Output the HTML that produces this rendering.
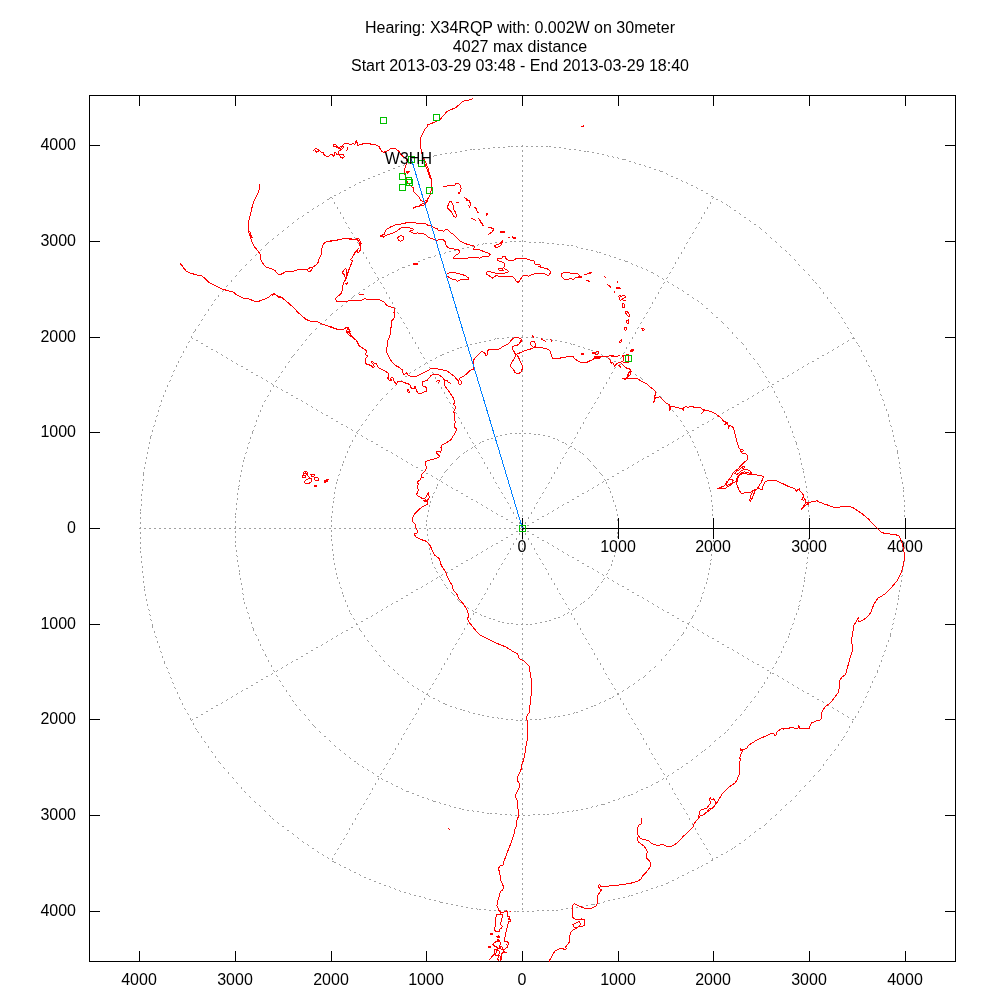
<!DOCTYPE html>
<html><head><meta charset="utf-8"><title>Hearing map</title>
<style>
html,body{margin:0;padding:0;background:#fff;}
body{width:1000px;height:1000px;overflow:hidden;font-family:"Liberation Sans",sans-serif;}
svg{display:block;}
text{font-family:"Liberation Sans",sans-serif;font-size:16px;fill:#000;filter:grayscale(1);}
</style></head><body>
<svg width="1000" height="1000" viewBox="0 0 1000 1000">
<rect width="1000" height="1000" fill="#fff"/>

<path d="M522 145h1v2h-1zM508 146h2v1h-2zM511 146h2v1h-2zM516 146h2v1h-2zM521 146h1v1h-1zM526 146h2v1h-2zM531 146h2v1h-2zM536 146h2v1h-2zM541 146h2v1h-2zM546 146h2v1h-2zM549 146h2v1h-2zM493 147h2v1h-2zM498 147h2v1h-2zM503 147h2v1h-2zM554 147h2v1h-2zM559 147h2v1h-2zM483 148h2v1h-2zM488 148h2v1h-2zM564 148h2v1h-2zM470 149h2v1h-2zM473 149h2v1h-2zM478 149h2v1h-2zM569 149h2v1h-2zM574 149h2v1h-2zM465 150h2v1h-2zM522 150h1v2h-1zM579 150h2v1h-2zM460 151h2v1h-2zM584 151h2v1h-2zM587 151h2v1h-2zM451 152h1v1h-1zM455 152h2v1h-2zM592 152h2v1h-2zM445 153h2v1h-2zM450 153h1v1h-1zM597 153h2v1h-2zM440 154h2v1h-2zM602 154h2v1h-2zM434 155h3v1h-3zM522 155h1v2h-1zM607 155h1v1h-1zM433 156h1v1h-1zM608 156h1v1h-1zM612 156h1v1h-1zM428 157h2v1h-2zM613 157h1v1h-1zM617 157h1v1h-1zM424 158h1v1h-1zM618 158h1v1h-1zM423 159h1v1h-1zM622 159h4v1h-4zM418 160h2v1h-2zM522 160h1v2h-1zM414 161h1v1h-1zM629 161h2v1h-2zM413 162h1v1h-1zM634 162h1v1h-1zM408 163h2v1h-2zM635 163h1v1h-1zM404 164h1v1h-1zM639 164h2v1h-2zM403 165h1v1h-1zM522 165h1v2h-1zM644 165h1v1h-1zM398 166h2v1h-2zM645 166h1v1h-1zM649 167h2v1h-2zM393 168h2v1h-2zM654 169h2v1h-2zM388 170h2v1h-2zM522 170h1v2h-1zM659 170h1v1h-1zM660 171h3v1h-3zM383 172h2v1h-2zM666 173h1v1h-1zM378 174h2v1h-2zM667 174h1v1h-1zM522 175h1v2h-1zM373 176h2v1h-2zM671 176h2v1h-2zM368 178h2v1h-2zM676 178h2v1h-2zM363 180h2v1h-2zM522 180h1v2h-1zM681 180h1v1h-1zM682 181h1v1h-1zM359 182h2v1h-2zM686 182h1v1h-1zM687 183h1v1h-1zM355 184h1v1h-1zM354 185h1v1h-1zM522 185h1v2h-1zM691 185h2v1h-2zM349 187h2v1h-2zM696 187h1v1h-1zM697 188h1v1h-1zM344 190h2v1h-2zM522 190h1v2h-1zM701 190h2v1h-2zM340 192h1v1h-1zM339 193h1v1h-1zM706 193h2v1h-2zM334 195h2v1h-2zM522 195h1v2h-1zM711 196h2v1h-2zM330 197h2v1h-2zM713 197h1v1h-1zM329 198h1v1h-1zM332 198h1v1h-1zM712 198h1v1h-1zM327 199h2v1h-2zM716 199h2v1h-2zM522 200h1v2h-1zM721 201h1v1h-1zM323 202h1v1h-1zM334 202h1v2h-1zM710 202h1v2h-1zM722 202h1v1h-1zM322 203h1v1h-1zM726 204h1v1h-1zM318 205h1v1h-1zM522 205h1v2h-1zM727 205h1v1h-1zM317 206h1v1h-1zM729 206h1v1h-1zM337 207h1v2h-1zM707 207h1v2h-1zM730 207h1v1h-1zM313 208h1v1h-1zM312 209h1v1h-1zM522 210h1v2h-1zM734 210h2v1h-2zM307 212h2v1h-2zM340 212h1v2h-1zM704 212h1v2h-1zM739 213h1v1h-1zM740 214h1v1h-1zM303 215h1v1h-1zM522 215h1v2h-1zM302 216h1v1h-1zM343 217h1v2h-1zM701 217h1v2h-1zM744 217h2v1h-2zM298 218h1v1h-1zM297 219h1v1h-1zM522 220h1v2h-1zM749 220h1v1h-1zM750 221h1v1h-1zM293 222h1v1h-1zM345 222h1v1h-1zM699 222h1v1h-1zM292 223h1v1h-1zM346 223h1v1h-1zM698 223h1v1h-1zM754 224h2v1h-2zM522 225h1v2h-1zM288 226h1v1h-1zM287 227h1v1h-1zM348 227h1v1h-1zM696 227h1v1h-1zM759 227h1v1h-1zM349 228h1v1h-1zM695 228h1v1h-1zM760 228h1v1h-1zM761 229h1v1h-1zM283 230h1v1h-1zM522 230h1v2h-1zM282 231h1v1h-1zM351 232h1v1h-1zM693 232h1v1h-1zM765 232h1v1h-1zM352 233h1v1h-1zM692 233h1v1h-1zM766 233h1v1h-1zM278 234h1v1h-1zM277 235h1v1h-1zM522 235h1v2h-1zM354 237h1v1h-1zM690 237h1v1h-1zM770 237h1v1h-1zM273 238h1v1h-1zM355 238h1v1h-1zM689 238h1v1h-1zM771 238h1v1h-1zM272 239h1v1h-1zM522 240h1v2h-1zM510 241h2v1h-2zM514 241h2v1h-2zM519 241h2v1h-2zM524 241h2v1h-2zM775 241h1v1h-1zM268 242h1v1h-1zM357 242h1v1h-1zM495 242h2v1h-2zM500 242h2v1h-2zM505 242h2v1h-2zM529 242h2v1h-2zM534 242h2v1h-2zM539 242h2v1h-2zM542 242h2v1h-2zM687 242h1v1h-1zM776 242h1v1h-1zM267 243h1v1h-1zM358 243h1v1h-1zM483 243h1v1h-1zM485 243h2v1h-2zM490 243h2v1h-2zM547 243h2v1h-2zM552 243h2v1h-2zM686 243h1v1h-1zM266 244h1v1h-1zM478 244h1v1h-1zM482 244h1v1h-1zM557 244h2v1h-2zM562 244h2v1h-2zM265 245h1v1h-1zM477 245h1v1h-1zM522 245h1v2h-1zM567 245h2v1h-2zM571 245h2v1h-2zM472 246h2v1h-2zM576 246h1v1h-1zM780 246h1v1h-1zM360 247h1v2h-1zM467 247h2v1h-2zM577 247h1v1h-1zM684 247h1v2h-1zM781 247h1v1h-1zM462 248h2v1h-2zM581 248h2v1h-2zM261 249h1v1h-1zM457 249h2v1h-2zM586 249h2v1h-2zM260 250h1v1h-1zM454 250h2v1h-2zM522 250h1v2h-1zM591 250h2v1h-2zM785 250h1v1h-1zM449 251h2v1h-2zM596 251h1v1h-1zM786 251h1v1h-1zM363 252h1v2h-1zM445 252h1v1h-1zM597 252h1v1h-1zM599 252h2v1h-2zM681 252h1v2h-1zM444 253h1v1h-1zM256 254h1v1h-1zM439 254h2v1h-2zM604 254h2v1h-2zM789 254h1v1h-1zM255 255h1v1h-1zM435 255h1v1h-1zM522 255h1v2h-1zM609 255h1v1h-1zM790 255h1v1h-1zM434 256h1v1h-1zM610 256h1v1h-1zM366 257h1v2h-1zM428 257h3v1h-3zM614 257h2v1h-2zM678 257h1v2h-1zM251 259h1v1h-1zM423 259h2v1h-2zM619 259h2v1h-2zM794 259h1v1h-1zM250 260h1v1h-1zM522 260h1v2h-1zM624 260h1v1h-1zM795 260h1v1h-1zM418 261h2v1h-2zM625 261h3v1h-3zM369 262h1v2h-1zM675 262h1v2h-1zM413 263h2v1h-2zM631 263h1v1h-1zM246 264h1v1h-1zM632 264h1v1h-1zM798 264h1v1h-1zM245 265h1v1h-1zM408 265h2v1h-2zM522 265h1v2h-1zM636 265h1v1h-1zM799 265h1v1h-1zM637 266h1v1h-1zM371 267h1v1h-1zM402 267h3v1h-3zM641 267h1v1h-1zM673 267h1v1h-1zM372 268h1v1h-1zM642 268h1v1h-1zM672 268h1v1h-1zM241 269h1v1h-1zM398 269h1v1h-1zM646 269h1v1h-1zM803 269h1v1h-1zM240 270h1v1h-1zM397 270h1v1h-1zM522 270h1v2h-1zM647 270h1v1h-1zM804 270h1v1h-1zM239 271h1v1h-1zM374 272h1v1h-1zM392 272h2v1h-2zM651 272h2v1h-2zM670 272h1v1h-1zM375 273h1v1h-1zM653 273h1v1h-1zM669 273h1v1h-1zM388 274h1v1h-1zM808 274h1v1h-1zM236 275h1v1h-1zM387 275h1v1h-1zM522 275h1v2h-1zM657 275h1v1h-1zM809 275h1v1h-1zM235 276h1v1h-1zM658 276h1v1h-1zM377 277h1v1h-1zM382 277h2v1h-2zM667 277h1v1h-1zM378 278h1v2h-1zM662 278h1v1h-1zM666 278h1v1h-1zM663 279h1v1h-1zM812 279h1v1h-1zM231 280h1v2h-1zM377 280h1v1h-1zM522 280h1v2h-1zM813 280h1v1h-1zM667 281h1v1h-1zM374 282h1v1h-1zM380 282h1v1h-1zM664 282h1v1h-1zM668 282h1v1h-1zM815 282h1v1h-1zM373 283h1v1h-1zM381 283h1v1h-1zM663 283h1v1h-1zM816 283h1v1h-1zM672 284h1v1h-1zM227 285h1v1h-1zM369 285h1v1h-1zM522 285h1v2h-1zM673 285h1v1h-1zM226 286h1v1h-1zM368 286h1v1h-1zM383 287h1v1h-1zM661 287h1v1h-1zM677 287h1v1h-1zM819 287h1v1h-1zM384 288h1v1h-1zM660 288h1v1h-1zM678 288h1v1h-1zM820 288h1v1h-1zM363 289h2v1h-2zM223 290h1v1h-1zM522 290h1v2h-1zM682 290h1v1h-1zM222 291h1v1h-1zM683 291h1v1h-1zM359 292h1v1h-1zM386 292h1v2h-1zM658 292h1v2h-1zM823 292h1v2h-1zM358 293h1v1h-1zM687 294h2v1h-2zM218 295h1v2h-1zM354 295h1v1h-1zM522 295h1v2h-1zM353 296h1v1h-1zM352 297h1v1h-1zM389 297h1v2h-1zM655 297h1v2h-1zM692 297h1v1h-1zM827 297h1v2h-1zM351 298h1v1h-1zM693 298h1v1h-1zM215 299h1v1h-1zM214 300h1v1h-1zM522 300h1v2h-1zM697 300h1v1h-1zM347 301h1v1h-1zM698 301h1v1h-1zM346 302h1v1h-1zM392 302h1v2h-1zM652 302h1v2h-1zM830 302h1v1h-1zM701 303h1v1h-1zM831 303h1v1h-1zM212 304h1v1h-1zM702 304h1v1h-1zM211 305h1v1h-1zM342 305h1v1h-1zM522 305h1v2h-1zM341 306h1v1h-1zM394 307h1v1h-1zM650 307h1v1h-1zM834 307h1v1h-1zM395 308h1v1h-1zM649 308h1v1h-1zM706 308h2v1h-2zM835 308h1v1h-1zM208 309h1v2h-1zM337 309h1v1h-1zM336 310h1v1h-1zM522 310h1v2h-1zM397 312h1v1h-1zM647 312h1v1h-1zM711 312h1v1h-1zM838 312h1v1h-1zM332 313h1v1h-1zM398 313h1v1h-1zM646 313h1v1h-1zM712 313h1v1h-1zM839 313h1v1h-1zM205 314h1v1h-1zM331 314h1v1h-1zM204 315h1v1h-1zM330 315h1v1h-1zM522 315h1v2h-1zM400 317h1v1h-1zM644 317h1v1h-1zM716 317h2v1h-2zM841 317h1v1h-1zM401 318h1v1h-1zM643 318h1v1h-1zM842 318h1v1h-1zM202 319h1v1h-1zM326 319h1v1h-1zM201 320h1v1h-1zM325 320h1v1h-1zM522 320h1v2h-1zM721 321h1v1h-1zM403 322h1v1h-1zM641 322h1v1h-1zM722 322h1v1h-1zM844 322h1v1h-1zM404 323h1v1h-1zM640 323h1v1h-1zM723 323h1v1h-1zM845 323h1v1h-1zM199 324h1v1h-1zM320 324h2v1h-2zM198 325h1v1h-1zM522 325h1v2h-1zM406 327h1v1h-1zM638 327h1v1h-1zM727 327h1v1h-1zM847 327h1v1h-1zM316 328h1v1h-1zM407 328h1v1h-1zM637 328h1v1h-1zM728 328h1v1h-1zM848 328h1v1h-1zM195 329h1v2h-1zM315 329h1v1h-1zM522 330h1v2h-1zM194 331h1v1h-1zM193 332h1v1h-1zM409 332h1v2h-1zM635 332h1v2h-1zM732 332h1v2h-1zM850 332h1v1h-1zM311 333h1v1h-1zM851 333h1v1h-1zM310 334h1v1h-1zM309 335h1v1h-1zM522 335h1v3h-1zM191 336h1v2h-1zM412 337h1v2h-1zM507 337h2v1h-2zM512 337h2v1h-2zM516 337h2v1h-2zM521 337h1v1h-1zM526 337h2v1h-2zM531 337h2v1h-2zM536 337h2v1h-2zM632 337h1v2h-1zM736 337h1v1h-1zM853 337h1v2h-1zM192 338h1v1h-1zM495 338h1v1h-1zM497 338h2v1h-2zM502 338h2v1h-2zM541 338h2v1h-2zM737 338h1v1h-1zM852 338h1v1h-1zM854 338h1v1h-1zM306 339h1v1h-1zM494 339h1v1h-1zM546 339h2v1h-2zM551 339h1v1h-1zM196 340h2v1h-2zM305 340h1v1h-1zM489 340h2v1h-2zM522 340h1v2h-1zM552 340h1v1h-1zM555 340h2v1h-2zM848 340h1v1h-1zM189 341h1v1h-1zM484 341h2v1h-2zM560 341h2v1h-2zM847 341h1v1h-1zM188 342h1v1h-1zM415 342h1v2h-1zM479 342h2v1h-2zM565 342h2v1h-2zM629 342h1v2h-1zM741 342h1v1h-1zM856 342h1v1h-1zM201 343h2v1h-2zM475 343h2v1h-2zM570 343h1v1h-1zM742 343h1v1h-1zM843 343h1v1h-1zM857 343h1v1h-1zM302 344h1v1h-1zM470 344h2v1h-2zM571 344h1v1h-1zM573 344h2v1h-2zM743 344h1v1h-1zM842 344h1v1h-1zM301 345h1v1h-1zM466 345h1v1h-1zM522 345h1v2h-1zM858 345h1v1h-1zM186 346h1v2h-1zM206 346h2v1h-2zM465 346h1v1h-1zM578 346h2v1h-2zM838 346h1v1h-1zM859 346h1v1h-1zM418 347h1v2h-1zM460 347h2v1h-2zM583 347h1v1h-1zM626 347h1v2h-1zM837 347h1v1h-1zM457 348h2v1h-2zM584 348h1v1h-1zM746 348h1v2h-1zM211 349h2v1h-2zM298 349h1v1h-1zM588 349h2v1h-2zM833 349h1v1h-1zM297 350h1v1h-1zM452 350h2v1h-2zM522 350h1v2h-1zM591 350h2v1h-2zM832 350h1v1h-1zM861 350h1v2h-1zM183 351h1v2h-1zM216 351h1v1h-1zM217 352h1v1h-1zM420 352h1v1h-1zM447 352h2v1h-2zM596 352h1v1h-1zM624 352h1v1h-1zM828 352h1v1h-1zM421 353h1v1h-1zM597 353h1v1h-1zM623 353h1v1h-1zM749 353h1v1h-1zM827 353h1v1h-1zM221 354h1v1h-1zM294 354h1v1h-1zM442 354h2v1h-2zM601 354h1v1h-1zM750 354h1v1h-1zM222 355h1v1h-1zM293 355h1v1h-1zM440 355h2v1h-2zM522 355h1v2h-1zM602 355h1v1h-1zM822 355h2v1h-2zM863 355h1v1h-1zM181 356h1v1h-1zM292 356h1v1h-1zM864 356h1v1h-1zM180 357h1v1h-1zM226 357h1v1h-1zM291 357h1v1h-1zM423 357h1v1h-1zM436 357h1v1h-1zM606 357h2v1h-2zM621 357h1v1h-1zM227 358h1v1h-1zM424 358h1v1h-1zM435 358h1v1h-1zM609 358h1v1h-1zM620 358h1v1h-1zM753 358h1v1h-1zM817 358h2v1h-2zM610 359h1v1h-1zM754 359h1v1h-1zM231 360h1v1h-1zM430 360h2v1h-2zM522 360h1v2h-1zM866 360h1v2h-1zM178 361h1v2h-1zM232 361h1v1h-1zM289 361h1v1h-1zM614 361h2v1h-2zM812 361h2v1h-2zM288 362h1v1h-1zM426 362h1v1h-1zM618 362h1v1h-1zM236 363h1v1h-1zM425 363h1v1h-1zM427 363h1v1h-1zM617 363h1v1h-1zM757 363h1v1h-1zM808 363h1v1h-1zM237 364h1v1h-1zM424 364h1v1h-1zM619 364h2v1h-2zM758 364h1v1h-1zM807 364h1v1h-1zM176 365h1v2h-1zM522 365h1v2h-1zM868 365h1v1h-1zM241 366h2v1h-2zM285 366h1v2h-1zM420 366h1v1h-1zM624 366h1v1h-1zM759 366h1v1h-1zM803 366h1v1h-1zM869 366h1v1h-1zM419 367h1v1h-1zM429 367h1v1h-1zM615 367h1v1h-1zM625 367h1v1h-1zM760 367h1v1h-1zM802 367h1v1h-1zM430 368h1v1h-1zM614 368h1v1h-1zM626 368h1v1h-1zM246 369h2v1h-2zM415 369h1v1h-1zM798 369h1v1h-1zM174 370h1v1h-1zM414 370h1v1h-1zM522 370h1v2h-1zM630 370h1v1h-1zM797 370h1v1h-1zM871 370h1v2h-1zM173 371h1v1h-1zM282 371h1v1h-1zM631 371h1v1h-1zM762 371h1v1h-1zM251 372h2v1h-2zM281 372h1v1h-1zM410 372h1v1h-1zM432 372h1v1h-1zM612 372h1v1h-1zM763 372h1v1h-1zM793 372h1v1h-1zM409 373h1v1h-1zM433 373h1v1h-1zM611 373h1v1h-1zM792 373h1v1h-1zM635 374h1v1h-1zM172 375h1v1h-1zM256 375h2v1h-2zM522 375h1v2h-1zM636 375h1v1h-1zM788 375h1v1h-1zM873 375h1v1h-1zM171 376h1v1h-1zM279 376h1v1h-1zM405 376h2v1h-2zM765 376h1v1h-1zM787 376h1v1h-1zM874 376h1v1h-1zM261 377h1v1h-1zM278 377h1v1h-1zM435 377h1v2h-1zM609 377h1v2h-1zM640 377h1v1h-1zM766 377h1v1h-1zM262 378h1v1h-1zM641 378h1v1h-1zM782 378h2v1h-2zM642 379h1v1h-1zM875 379h1v2h-1zM170 380h1v1h-1zM266 380h1v1h-1zM276 380h1v1h-1zM401 380h1v1h-1zM522 380h1v2h-1zM169 381h1v1h-1zM267 381h1v1h-1zM275 381h1v1h-1zM400 381h1v1h-1zM768 381h1v1h-1zM777 381h2v1h-2zM438 382h1v2h-1zM606 382h1v2h-1zM769 382h1v1h-1zM271 383h1v1h-1zM646 383h1v1h-1zM272 384h1v1h-1zM396 384h1v1h-1zM647 384h1v1h-1zM772 384h2v1h-2zM877 384h1v2h-1zM167 385h1v2h-1zM273 385h1v2h-1zM395 385h1v1h-1zM522 385h1v2h-1zM276 386h1v1h-1zM768 386h1v1h-1zM771 386h1v1h-1zM277 387h1v1h-1zM441 387h1v2h-1zM603 387h1v2h-1zM651 387h1v1h-1zM767 387h1v1h-1zM772 387h1v1h-1zM392 388h1v1h-1zM652 388h1v1h-1zM281 389h1v1h-1zM391 389h1v1h-1zM763 389h1v1h-1zM879 389h1v2h-1zM165 390h1v2h-1zM270 390h1v2h-1zM282 390h1v1h-1zM522 390h1v2h-1zM762 390h1v1h-1zM655 391h1v1h-1zM774 391h1v2h-1zM286 392h2v1h-2zM444 392h1v2h-1zM600 392h1v2h-1zM656 392h1v1h-1zM758 392h1v1h-1zM387 393h1v1h-1zM757 393h1v1h-1zM386 394h1v1h-1zM880 394h1v1h-1zM163 395h1v2h-1zM268 395h1v1h-1zM291 395h2v1h-2zM522 395h1v2h-1zM753 395h1v1h-1zM881 395h1v1h-1zM267 396h1v1h-1zM660 396h1v1h-1zM752 396h1v1h-1zM776 396h1v1h-1zM446 397h1v1h-1zM598 397h1v1h-1zM661 397h1v1h-1zM777 397h1v1h-1zM296 398h2v1h-2zM382 398h1v1h-1zM447 398h1v1h-1zM597 398h1v1h-1zM748 398h1v1h-1zM381 399h1v1h-1zM747 399h1v1h-1zM882 399h1v1h-1zM161 400h1v2h-1zM265 400h1v1h-1zM301 400h1v1h-1zM380 400h1v1h-1zM522 400h1v2h-1zM883 400h1v1h-1zM264 401h1v1h-1zM302 401h1v1h-1zM664 401h1v1h-1zM742 401h2v1h-2zM779 401h1v2h-1zM449 402h1v1h-1zM595 402h1v1h-1zM665 402h1v1h-1zM306 403h1v1h-1zM450 403h1v1h-1zM594 403h1v1h-1zM307 404h1v1h-1zM377 404h1v1h-1zM737 404h2v1h-2zM884 404h1v2h-1zM160 405h1v1h-1zM262 405h1v2h-1zM376 405h1v1h-1zM522 405h1v2h-1zM668 405h1v1h-1zM159 406h1v1h-1zM311 406h1v1h-1zM669 406h1v1h-1zM781 406h1v1h-1zM312 407h1v1h-1zM452 407h1v1h-1zM592 407h1v1h-1zM732 407h2v1h-2zM782 407h1v1h-1zM453 408h1v1h-1zM591 408h1v1h-1zM316 409h1v1h-1zM373 409h1v1h-1zM728 409h1v1h-1zM886 409h1v2h-1zM158 410h1v2h-1zM260 410h1v2h-1zM317 410h1v1h-1zM372 410h1v1h-1zM522 410h1v2h-1zM672 410h1v1h-1zM727 410h1v1h-1zM673 411h1v1h-1zM784 411h1v2h-1zM321 412h1v1h-1zM455 412h1v1h-1zM589 412h1v1h-1zM723 412h1v1h-1zM322 413h1v1h-1zM456 413h1v1h-1zM588 413h1v1h-1zM722 413h1v1h-1zM369 414h1v1h-1zM888 414h1v3h-1zM157 415h1v1h-1zM258 415h1v2h-1zM326 415h2v1h-2zM368 415h1v1h-1zM522 415h1v2h-1zM676 415h1v1h-1zM718 415h1v1h-1zM156 416h1v1h-1zM677 416h1v1h-1zM717 416h1v1h-1zM786 416h1v2h-1zM458 417h1v1h-1zM586 417h1v1h-1zM331 418h2v1h-2zM459 418h1v1h-1zM585 418h1v1h-1zM713 418h1v1h-1zM366 419h1v1h-1zM712 419h1v1h-1zM155 420h1v2h-1zM256 420h1v2h-1zM365 420h1v1h-1zM522 420h1v2h-1zM680 420h1v1h-1zM889 420h1v2h-1zM336 421h2v1h-2zM681 421h1v1h-1zM708 421h1v1h-1zM788 421h1v2h-1zM461 422h1v2h-1zM583 422h1v2h-1zM707 422h1v1h-1zM341 424h2v1h-2zM362 424h1v1h-1zM702 424h2v1h-2zM154 425h1v1h-1zM255 425h1v1h-1zM361 425h1v1h-1zM522 425h1v2h-1zM683 425h1v1h-1zM890 425h1v1h-1zM153 426h1v1h-1zM254 426h1v1h-1zM346 426h1v1h-1zM684 426h1v1h-1zM790 426h1v2h-1zM891 426h1v1h-1zM347 427h1v1h-1zM464 427h1v2h-1zM580 427h1v2h-1zM697 427h2v1h-2zM351 429h1v1h-1zM359 429h1v1h-1zM152 430h1v2h-1zM253 430h1v1h-1zM352 430h1v1h-1zM358 430h1v1h-1zM522 430h1v2h-1zM686 430h1v1h-1zM692 430h2v1h-2zM892 430h1v2h-1zM252 431h1v3h-1zM357 431h1v1h-1zM687 431h1v1h-1zM792 431h1v2h-1zM356 432h1v1h-1zM467 432h1v2h-1zM577 432h1v2h-1zM688 432h1v1h-1zM357 433h1v1h-1zM510 433h2v1h-2zM515 433h2v1h-2zM519 433h2v1h-2zM524 433h2v1h-2zM529 433h2v1h-2zM687 433h1v1h-1zM505 434h2v1h-2zM534 434h2v1h-2zM538 434h2v1h-2zM151 435h1v1h-1zM355 435h1v2h-1zM361 435h1v1h-1zM500 435h2v1h-2zM522 435h1v2h-1zM543 435h2v1h-2zM683 435h1v1h-1zM689 435h1v1h-1zM893 435h1v2h-1zM150 436h1v3h-1zM362 436h1v1h-1zM496 436h2v1h-2zM548 436h2v1h-2zM682 436h1v1h-1zM690 436h1v2h-1zM793 436h1v1h-1zM250 437h1v2h-1zM469 437h1v1h-1zM575 437h1v1h-1zM794 437h1v1h-1zM366 438h1v1h-1zM470 438h1v1h-1zM491 438h2v1h-2zM553 438h2v1h-2zM574 438h1v1h-1zM678 438h1v1h-1zM367 439h1v1h-1zM487 439h2v1h-2zM557 439h1v1h-1zM677 439h1v1h-1zM352 440h1v2h-1zM522 440h1v2h-1zM558 440h1v1h-1zM894 440h1v2h-1zM371 441h2v1h-2zM482 441h2v1h-2zM673 441h1v1h-1zM692 441h1v1h-1zM795 441h1v1h-1zM149 442h1v2h-1zM249 442h1v1h-1zM472 442h1v1h-1zM480 442h1v1h-1zM562 442h2v1h-2zM572 442h1v1h-1zM672 442h1v1h-1zM693 442h1v1h-1zM796 442h1v3h-1zM248 443h1v1h-1zM473 443h1v1h-1zM479 443h1v1h-1zM565 443h1v1h-1zM571 443h1v1h-1zM376 444h2v1h-2zM566 444h1v1h-1zM668 444h1v1h-1zM350 445h1v1h-1zM475 445h1v1h-1zM522 445h1v2h-1zM667 445h1v1h-1zM895 445h1v1h-1zM349 446h1v2h-1zM474 446h1v1h-1zM570 446h2v1h-2zM694 446h1v1h-1zM896 446h1v1h-1zM148 447h1v2h-1zM247 447h1v2h-1zM381 447h2v1h-2zM472 447h1v1h-1zM475 447h1v1h-1zM569 447h1v1h-1zM662 447h2v1h-2zM695 447h1v1h-1zM471 448h1v1h-1zM476 448h1v1h-1zM568 448h1v1h-1zM574 448h1v1h-1zM797 448h1v1h-1zM575 449h1v1h-1zM798 449h1v1h-1zM386 450h2v1h-2zM467 450h1v1h-1zM522 450h1v2h-1zM657 450h2v1h-2zM897 450h1v4h-1zM347 451h1v2h-1zM466 451h1v1h-1zM579 451h1v1h-1zM697 451h1v2h-1zM147 452h1v2h-1zM246 452h1v1h-1zM391 452h1v1h-1zM464 452h1v1h-1zM478 452h1v1h-1zM566 452h1v1h-1zM580 452h1v1h-1zM245 453h1v1h-1zM392 453h1v1h-1zM463 453h1v1h-1zM479 453h1v1h-1zM565 453h1v1h-1zM582 453h1v1h-1zM652 453h2v1h-2zM799 453h1v2h-1zM583 454h1v1h-1zM698 454h1v2h-1zM396 455h1v1h-1zM522 455h1v2h-1zM345 456h1v2h-1zM397 456h1v1h-1zM459 456h1v1h-1zM647 456h2v1h-2zM146 457h1v2h-1zM244 457h1v2h-1zM458 457h1v1h-1zM481 457h1v1h-1zM563 457h1v1h-1zM898 457h1v2h-1zM401 458h1v1h-1zM457 458h1v1h-1zM482 458h1v1h-1zM562 458h1v1h-1zM587 458h1v1h-1zM643 458h1v1h-1zM800 458h1v2h-1zM402 459h1v1h-1zM456 459h1v1h-1zM588 459h1v1h-1zM642 459h1v1h-1zM700 459h1v2h-1zM243 460h1v2h-1zM522 460h1v2h-1zM589 460h1v1h-1zM343 461h1v2h-1zM406 461h1v1h-1zM590 461h1v1h-1zM638 461h1v1h-1zM145 462h1v2h-1zM407 462h1v1h-1zM484 462h1v2h-1zM560 462h1v2h-1zM637 462h1v1h-1zM899 462h1v2h-1zM452 463h1v1h-1zM801 463h1v2h-1zM342 464h1v2h-1zM411 464h1v1h-1zM451 464h1v1h-1zM633 464h1v1h-1zM702 464h1v2h-1zM242 465h1v2h-1zM412 465h1v1h-1zM450 465h1v1h-1zM522 465h1v2h-1zM593 465h1v1h-1zM632 465h1v1h-1zM594 466h1v1h-1zM144 467h1v2h-1zM416 467h2v1h-2zM487 467h1v2h-1zM557 467h1v2h-1zM595 467h1v1h-1zM628 467h1v1h-1zM899 467h1v1h-1zM596 468h1v1h-1zM627 468h1v1h-1zM802 468h1v1h-1zM900 468h1v1h-1zM340 469h1v2h-1zM447 469h1v1h-1zM704 469h1v2h-1zM803 469h1v1h-1zM241 470h1v2h-1zM421 470h2v1h-2zM446 470h1v1h-1zM522 470h1v2h-1zM622 470h2v1h-2zM445 471h1v1h-1zM803 471h1v2h-1zM143 472h1v4h-1zM444 472h1v1h-1zM490 472h1v2h-1zM554 472h1v2h-1zM599 472h1v1h-1zM705 472h1v2h-1zM900 472h1v2h-1zM426 473h2v1h-2zM600 473h1v1h-1zM617 473h2v1h-2zM339 474h1v1h-1zM601 474h1v1h-1zM240 475h1v2h-1zM338 475h1v1h-1zM431 475h1v1h-1zM522 475h1v2h-1zM602 475h1v1h-1zM432 476h1v1h-1zM442 476h1v1h-1zM612 476h2v1h-2zM804 476h1v2h-1zM441 477h1v1h-1zM493 477h1v2h-1zM551 477h1v2h-1zM706 477h1v1h-1zM901 477h1v2h-1zM436 478h1v1h-1zM707 478h1v1h-1zM143 479h1v2h-1zM337 479h1v2h-1zM437 479h1v1h-1zM440 479h1v1h-1zM604 479h1v1h-1zM607 479h2v1h-2zM239 480h1v2h-1zM439 480h1v1h-1zM522 480h1v2h-1zM605 480h1v1h-1zM441 481h1v1h-1zM603 481h1v1h-1zM805 481h1v2h-1zM336 482h1v2h-1zM442 482h1v1h-1zM495 482h1v1h-1zM549 482h1v1h-1zM602 482h1v1h-1zM606 482h1v2h-1zM708 482h1v2h-1zM902 482h1v2h-1zM496 483h1v1h-1zM548 483h1v1h-1zM142 484h1v2h-1zM437 484h1v2h-1zM446 484h1v1h-1zM598 484h1v1h-1zM239 485h1v1h-1zM447 485h1v1h-1zM522 485h1v2h-1zM597 485h1v1h-1zM238 486h1v1h-1zM806 486h1v2h-1zM335 487h1v2h-1zM436 487h1v2h-1zM451 487h1v1h-1zM498 487h1v1h-1zM546 487h1v1h-1zM593 487h1v1h-1zM608 487h1v1h-1zM709 487h1v2h-1zM903 487h1v2h-1zM238 488h1v2h-1zM452 488h1v1h-1zM499 488h1v1h-1zM545 488h1v1h-1zM592 488h1v1h-1zM609 488h1v1h-1zM142 489h1v2h-1zM456 490h2v1h-2zM522 490h1v2h-1zM588 490h1v1h-1zM710 490h1v2h-1zM903 490h1v2h-1zM587 491h1v1h-1zM610 491h1v2h-1zM806 491h1v1h-1zM334 492h1v2h-1zM434 492h1v1h-1zM501 492h1v1h-1zM543 492h1v1h-1zM807 492h1v1h-1zM237 493h1v2h-1zM433 493h1v1h-1zM461 493h2v1h-2zM502 493h1v1h-1zM542 493h1v1h-1zM582 493h2v1h-2zM141 494h1v2h-1zM522 495h1v2h-1zM711 495h1v2h-1zM903 495h1v2h-1zM432 496h1v2h-1zM466 496h2v1h-2zM577 496h2v1h-2zM612 496h1v2h-1zM807 496h1v2h-1zM334 497h1v1h-1zM504 497h1v1h-1zM540 497h1v1h-1zM237 498h1v2h-1zM333 498h1v1h-1zM505 498h1v1h-1zM539 498h1v1h-1zM141 499h1v2h-1zM471 499h2v1h-2zM572 499h2v1h-2zM522 500h1v2h-1zM613 500h1v2h-1zM711 500h1v2h-1zM808 500h1v2h-1zM904 500h1v2h-1zM333 501h1v2h-1zM430 501h1v2h-1zM476 501h1v1h-1zM477 502h1v1h-1zM507 502h1v1h-1zM537 502h1v1h-1zM567 502h2v1h-2zM236 503h1v2h-1zM508 503h1v1h-1zM536 503h1v1h-1zM141 504h1v2h-1zM481 504h1v1h-1zM563 504h1v1h-1zM429 505h1v2h-1zM482 505h1v1h-1zM522 505h1v2h-1zM562 505h1v1h-1zM615 505h1v2h-1zM712 505h1v2h-1zM808 505h1v2h-1zM904 505h1v2h-1zM332 506h1v2h-1zM486 507h1v1h-1zM510 507h1v2h-1zM534 507h1v2h-1zM558 507h1v1h-1zM236 508h1v2h-1zM487 508h1v1h-1zM557 508h1v1h-1zM140 509h1v2h-1zM616 509h1v2h-1zM712 509h1v2h-1zM428 510h1v2h-1zM491 510h1v1h-1zM522 510h1v2h-1zM553 510h1v1h-1zM808 510h1v2h-1zM904 510h1v2h-1zM332 511h1v2h-1zM492 511h1v1h-1zM552 511h1v1h-1zM140 512h1v2h-1zM513 512h1v2h-1zM531 512h1v2h-1zM235 513h1v2h-1zM496 513h1v1h-1zM548 513h1v1h-1zM497 514h1v1h-1zM547 514h1v1h-1zM617 514h1v2h-1zM712 514h1v2h-1zM427 515h1v2h-1zM522 515h1v2h-1zM809 515h1v2h-1zM904 515h1v2h-1zM235 516h1v2h-1zM331 516h1v2h-1zM501 516h2v1h-2zM542 516h2v1h-2zM140 517h1v2h-1zM516 517h1v2h-1zM528 517h1v2h-1zM506 519h2v1h-2zM537 519h2v1h-2zM617 519h1v2h-1zM713 519h1v2h-1zM331 520h1v2h-1zM426 520h1v2h-1zM522 520h1v2h-1zM809 520h1v2h-1zM905 520h1v4h-1zM235 521h1v2h-1zM140 522h1v2h-1zM511 522h2v1h-2zM519 522h1v2h-1zM525 522h1v2h-1zM532 522h2v1h-2zM809 523h1v4h-1zM426 524h1v2h-1zM618 524h1v2h-1zM713 524h1v3h-1zM331 525h1v2h-1zM516 525h2v1h-2zM522 525h1v2h-1zM527 525h2v1h-2zM905 525h1v4h-1zM235 526h1v3h-1zM140 527h1v2h-1zM521 527h1v1h-1zM523 527h1v1h-1zM618 527h1v2h-1zM139 528h1v1h-1zM144 528h2v1h-2zM149 528h2v1h-2zM154 528h2v1h-2zM159 528h2v1h-2zM164 528h2v1h-2zM169 528h2v1h-2zM174 528h2v1h-2zM179 528h2v1h-2zM184 528h2v1h-2zM189 528h2v1h-2zM194 528h2v1h-2zM199 528h2v1h-2zM204 528h2v1h-2zM209 528h2v1h-2zM214 528h2v1h-2zM219 528h2v1h-2zM224 528h2v1h-2zM229 528h2v1h-2zM234 528h1v1h-1zM239 528h2v1h-2zM244 528h2v1h-2zM249 528h2v1h-2zM254 528h2v1h-2zM259 528h2v1h-2zM264 528h2v1h-2zM269 528h2v1h-2zM274 528h2v1h-2zM279 528h2v1h-2zM284 528h2v1h-2zM289 528h2v1h-2zM294 528h2v1h-2zM299 528h2v1h-2zM304 528h2v1h-2zM309 528h2v1h-2zM314 528h2v1h-2zM319 528h2v1h-2zM324 528h2v1h-2zM329 528h2v1h-2zM334 528h2v1h-2zM339 528h2v1h-2zM344 528h2v1h-2zM349 528h2v1h-2zM354 528h2v1h-2zM359 528h2v1h-2zM364 528h2v1h-2zM369 528h2v1h-2zM374 528h2v1h-2zM379 528h2v1h-2zM384 528h2v1h-2zM389 528h2v1h-2zM394 528h2v1h-2zM399 528h2v1h-2zM404 528h2v1h-2zM409 528h2v1h-2zM414 528h2v1h-2zM419 528h2v1h-2zM424 528h2v1h-2zM429 528h2v1h-2zM434 528h2v1h-2zM439 528h2v1h-2zM444 528h2v1h-2zM449 528h2v1h-2zM454 528h2v1h-2zM459 528h2v1h-2zM464 528h2v1h-2zM469 528h2v1h-2zM474 528h2v1h-2zM479 528h2v1h-2zM484 528h2v1h-2zM489 528h2v1h-2zM494 528h2v1h-2zM499 528h2v1h-2zM504 528h2v1h-2zM509 528h2v1h-2zM514 528h2v1h-2zM519 528h2v1h-2zM522 528h1v2h-1zM809 528h1v2h-1zM427 529h1v2h-1zM521 529h1v1h-1zM523 529h1v1h-1zM331 530h1v2h-1zM713 530h1v2h-1zM235 531h1v2h-1zM516 531h2v1h-2zM527 531h2v1h-2zM140 532h1v2h-1zM617 532h1v2h-1zM905 532h1v2h-1zM519 533h1v2h-1zM522 533h1v2h-1zM525 533h1v2h-1zM809 533h1v2h-1zM427 534h1v2h-1zM511 534h2v1h-2zM532 534h2v1h-2zM331 535h1v2h-1zM713 535h1v2h-1zM235 536h1v2h-1zM617 536h1v2h-1zM140 537h1v2h-1zM506 537h2v1h-2zM537 537h2v1h-2zM905 537h1v2h-1zM516 538h1v2h-1zM522 538h1v2h-1zM528 538h1v2h-1zM808 538h1v2h-1zM331 539h1v2h-1zM428 539h1v2h-1zM501 540h2v1h-2zM542 540h2v1h-2zM713 540h1v2h-1zM235 541h1v2h-1zM616 541h1v2h-1zM140 542h1v2h-1zM547 542h1v1h-1zM904 542h1v2h-1zM428 543h1v2h-1zM496 543h2v1h-2zM513 543h1v2h-1zM522 543h1v2h-1zM531 543h1v2h-1zM548 543h1v1h-1zM808 543h1v2h-1zM332 544h1v2h-1zM713 544h1v2h-1zM235 545h1v2h-1zM492 545h1v1h-1zM552 545h1v1h-1zM491 546h1v1h-1zM553 546h1v1h-1zM616 546h1v2h-1zM140 547h1v2h-1zM904 547h1v2h-1zM429 548h1v2h-1zM487 548h1v1h-1zM510 548h1v2h-1zM522 548h1v2h-1zM534 548h1v2h-1zM557 548h1v1h-1zM808 548h1v2h-1zM332 549h1v2h-1zM486 549h1v1h-1zM558 549h1v1h-1zM712 549h1v2h-1zM236 550h1v2h-1zM140 551h1v2h-1zM482 551h1v1h-1zM562 551h1v1h-1zM615 551h1v2h-1zM481 552h1v1h-1zM563 552h1v1h-1zM808 552h1v2h-1zM904 552h1v2h-1zM430 553h1v2h-1zM508 553h1v1h-1zM522 553h1v2h-1zM536 553h1v1h-1zM333 554h1v2h-1zM477 554h1v1h-1zM507 554h1v1h-1zM537 554h1v1h-1zM567 554h1v1h-1zM711 554h1v2h-1zM236 555h1v1h-1zM476 555h1v1h-1zM568 555h1v1h-1zM614 555h1v2h-1zM141 556h1v2h-1zM237 556h1v1h-1zM472 557h1v1h-1zM572 557h2v1h-2zM807 557h1v2h-1zM904 557h1v2h-1zM333 558h1v2h-1zM431 558h1v2h-1zM471 558h1v1h-1zM505 558h1v1h-1zM522 558h1v2h-1zM539 558h1v1h-1zM504 559h1v1h-1zM540 559h1v1h-1zM711 559h1v1h-1zM237 560h1v2h-1zM466 560h2v1h-2zM577 560h2v1h-2zM612 560h1v2h-1zM710 560h1v1h-1zM904 560h1v2h-1zM141 561h1v2h-1zM432 562h1v2h-1zM807 562h1v1h-1zM334 563h1v2h-1zM461 563h2v1h-2zM502 563h1v1h-1zM522 563h1v2h-1zM542 563h1v1h-1zM582 563h2v1h-2zM710 563h1v2h-1zM806 563h1v1h-1zM501 564h1v1h-1zM543 564h1v1h-1zM611 564h1v2h-1zM238 565h1v2h-1zM903 565h1v2h-1zM142 566h1v2h-1zM456 566h2v1h-2zM587 566h2v1h-2zM434 567h1v1h-1zM806 567h1v2h-1zM335 568h1v2h-1zM435 568h1v1h-1zM499 568h1v1h-1zM522 568h1v2h-1zM545 568h1v1h-1zM592 568h1v1h-1zM709 568h1v2h-1zM451 569h2v1h-2zM498 569h1v1h-1zM546 569h1v1h-1zM593 569h1v1h-1zM609 569h1v1h-1zM239 570h1v2h-1zM608 570h1v1h-1zM902 570h1v2h-1zM142 571h1v2h-1zM436 571h1v1h-1zM597 571h1v1h-1zM437 572h1v1h-1zM446 572h2v1h-2zM598 572h1v1h-1zM805 572h1v2h-1zM239 573h1v2h-1zM336 573h1v2h-1zM496 573h1v2h-1zM522 573h1v2h-1zM548 573h1v2h-1zM607 573h1v1h-1zM708 573h1v2h-1zM442 574h1v1h-1zM602 574h1v1h-1zM606 574h1v1h-1zM441 575h1v1h-1zM603 575h1v1h-1zM902 575h1v1h-1zM143 576h1v2h-1zM439 576h1v1h-1zM901 576h1v1h-1zM337 577h1v2h-1zM437 577h1v1h-1zM440 577h1v1h-1zM607 577h1v1h-1zM804 577h1v2h-1zM240 578h1v2h-1zM436 578h1v1h-1zM493 578h1v2h-1zM522 578h1v2h-1zM551 578h1v2h-1zM604 578h1v1h-1zM608 578h1v1h-1zM707 578h1v2h-1zM441 579h1v1h-1zM603 579h1v1h-1zM432 580h1v1h-1zM442 580h1v1h-1zM612 580h1v1h-1zM804 580h1v2h-1zM901 580h1v2h-1zM143 581h1v2h-1zM431 581h1v1h-1zM602 581h1v1h-1zM613 581h1v1h-1zM339 582h1v2h-1zM601 582h1v1h-1zM706 582h1v2h-1zM241 583h1v2h-1zM427 583h1v1h-1zM490 583h1v2h-1zM522 583h1v2h-1zM554 583h1v2h-1zM617 583h1v1h-1zM426 584h1v1h-1zM444 584h1v1h-1zM618 584h1v1h-1zM445 585h1v1h-1zM803 585h1v2h-1zM900 585h1v2h-1zM144 586h1v2h-1zM422 586h1v1h-1zM598 586h1v1h-1zM622 586h2v1h-2zM340 587h1v1h-1zM421 587h1v1h-1zM446 587h1v1h-1zM597 587h1v1h-1zM704 587h1v2h-1zM242 588h1v2h-1zM341 588h1v1h-1zM447 588h1v1h-1zM487 588h1v2h-1zM522 588h1v2h-1zM557 588h1v2h-1zM144 589h1v2h-1zM416 589h2v1h-2zM596 589h1v1h-1zM627 589h2v1h-2zM595 590h1v1h-1zM802 590h1v2h-1zM899 590h1v2h-1zM342 592h1v2h-1zM411 592h2v1h-2zM451 592h1v1h-1zM632 592h2v1h-2zM703 592h1v1h-1zM242 593h1v1h-1zM452 593h1v1h-1zM485 593h1v1h-1zM522 593h1v2h-1zM559 593h1v1h-1zM702 593h1v1h-1zM145 594h1v2h-1zM243 594h1v1h-1zM453 594h1v1h-1zM484 594h1v1h-1zM560 594h1v1h-1zM592 594h1v1h-1zM343 595h1v2h-1zM406 595h2v1h-2zM454 595h1v1h-1zM591 595h1v1h-1zM637 595h2v1h-2zM801 595h1v2h-1zM898 595h1v2h-1zM589 597h1v1h-1zM642 597h1v1h-1zM701 597h1v2h-1zM243 598h1v2h-1zM401 598h2v1h-2zM482 598h1v1h-1zM522 598h1v2h-1zM562 598h1v1h-1zM588 598h1v1h-1zM643 598h1v1h-1zM898 598h1v2h-1zM146 599h1v2h-1zM457 599h1v1h-1zM481 599h1v1h-1zM563 599h1v1h-1zM345 600h1v2h-1zM458 600h1v1h-1zM647 600h1v1h-1zM700 600h1v2h-1zM800 600h1v1h-1zM396 601h2v1h-2zM459 601h1v1h-1zM584 601h1v1h-1zM648 601h1v1h-1zM799 601h1v1h-1zM244 602h1v2h-1zM460 602h1v1h-1zM583 602h1v1h-1zM392 603h1v1h-1zM479 603h1v1h-1zM522 603h1v2h-1zM565 603h1v1h-1zM581 603h1v1h-1zM652 603h1v1h-1zM897 603h1v2h-1zM147 604h1v2h-1zM391 604h1v1h-1zM478 604h1v1h-1zM566 604h1v1h-1zM580 604h1v1h-1zM653 604h1v1h-1zM347 605h1v2h-1zM464 605h1v1h-1zM698 605h1v1h-1zM799 605h1v1h-1zM387 606h1v1h-1zM465 606h1v1h-1zM657 606h1v1h-1zM697 606h1v1h-1zM798 606h1v1h-1zM246 607h1v2h-1zM386 607h1v1h-1zM467 607h1v1h-1zM576 607h1v1h-1zM658 607h1v1h-1zM468 608h1v1h-1zM476 608h1v1h-1zM522 608h1v2h-1zM568 608h1v1h-1zM575 608h1v1h-1zM798 608h1v2h-1zM896 608h1v2h-1zM148 609h1v1h-1zM382 609h1v1h-1zM475 609h1v1h-1zM569 609h1v1h-1zM573 609h1v1h-1zM662 609h1v1h-1zM149 610h1v1h-1zM349 610h1v2h-1zM381 610h1v1h-1zM472 610h1v1h-1zM572 610h1v1h-1zM663 610h1v1h-1zM695 610h1v2h-1zM473 611h1v1h-1zM247 612h1v1h-1zM377 612h1v1h-1zM475 612h2v1h-2zM568 612h1v1h-1zM667 612h2v1h-2zM248 613h1v1h-1zM350 613h1v1h-1zM376 613h1v1h-1zM473 613h1v2h-1zM522 613h1v2h-1zM567 613h1v1h-1zM571 613h1v2h-1zM796 613h1v2h-1zM895 613h1v2h-1zM149 614h1v1h-1zM351 614h1v1h-1zM480 614h1v1h-1zM564 614h1v1h-1zM150 615h1v1h-1zM372 615h1v1h-1zM481 615h1v1h-1zM563 615h1v1h-1zM672 615h2v1h-2zM693 615h1v1h-1zM371 616h1v1h-1zM484 616h2v1h-2zM692 616h1v2h-1zM249 617h1v2h-1zM558 617h2v1h-2zM353 618h1v1h-1zM366 618h2v1h-2zM470 618h1v2h-1zM489 618h2v1h-2zM522 618h1v2h-1zM554 618h2v1h-2zM574 618h1v2h-1zM677 618h2v1h-2zM691 618h1v1h-1zM794 618h1v2h-1zM894 618h1v1h-1zM150 619h1v1h-1zM354 619h1v1h-1zM493 619h2v1h-2zM893 619h1v1h-1zM151 620h1v1h-1zM549 620h2v1h-2zM361 621h2v1h-2zM498 621h2v1h-2zM545 621h2v1h-2zM682 621h2v1h-2zM251 622h1v2h-1zM502 622h2v1h-2zM540 622h2v1h-2zM689 622h1v1h-1zM356 623h1v2h-1zM467 623h1v2h-1zM507 623h2v1h-2zM511 623h2v1h-2zM522 623h1v2h-1zM535 623h2v1h-2zM577 623h1v2h-1zM687 623h2v1h-2zM793 623h1v1h-1zM893 623h1v1h-1zM152 624h1v4h-1zM357 624h1v1h-1zM516 624h2v1h-2zM521 624h1v1h-1zM526 624h2v1h-2zM530 624h2v1h-2zM688 624h1v1h-1zM792 624h1v1h-1zM892 624h1v1h-1zM692 626h1v1h-1zM252 627h1v1h-1zM351 627h2v1h-2zM686 627h1v2h-1zM693 627h1v1h-1zM253 628h1v3h-1zM359 628h1v2h-1zM464 628h1v2h-1zM522 628h1v2h-1zM580 628h1v2h-1zM791 628h1v1h-1zM892 628h1v1h-1zM697 629h1v1h-1zM790 629h1v1h-1zM891 629h1v1h-1zM346 630h2v1h-2zM360 630h1v1h-1zM698 630h1v1h-1zM154 631h1v2h-1zM361 631h1v1h-1zM342 632h1v1h-1zM683 632h1v2h-1zM702 632h1v1h-1zM341 633h1v1h-1zM462 633h1v1h-1zM522 633h1v2h-1zM582 633h1v1h-1zM703 633h1v1h-1zM789 633h1v2h-1zM890 633h1v4h-1zM255 634h1v1h-1zM461 634h1v1h-1zM583 634h1v1h-1zM682 634h1v1h-1zM256 635h1v1h-1zM337 635h1v1h-1zM364 635h1v2h-1zM681 635h1v1h-1zM707 635h1v1h-1zM155 636h1v1h-1zM336 636h1v1h-1zM708 636h1v1h-1zM788 636h1v2h-1zM156 637h1v1h-1zM332 638h1v1h-1zM459 638h1v1h-1zM522 638h1v2h-1zM585 638h1v1h-1zM712 638h2v1h-2zM258 639h1v2h-1zM331 639h1v1h-1zM458 639h1v1h-1zM586 639h1v1h-1zM678 639h1v1h-1zM367 640h1v1h-1zM677 640h1v1h-1zM888 640h1v2h-1zM157 641h1v2h-1zM327 641h1v1h-1zM368 641h1v1h-1zM717 641h2v1h-2zM786 641h1v1h-1zM326 642h1v1h-1zM785 642h1v1h-1zM456 643h1v1h-1zM522 643h1v2h-1zM588 643h1v1h-1zM260 644h1v2h-1zM322 644h1v1h-1zM455 644h1v1h-1zM589 644h1v1h-1zM674 644h1v1h-1zM722 644h2v1h-2zM321 645h1v1h-1zM371 645h1v1h-1zM673 645h1v1h-1zM886 645h1v2h-1zM159 646h1v2h-1zM372 646h1v1h-1zM783 646h1v2h-1zM316 647h2v1h-2zM727 647h2v1h-2zM453 648h1v1h-1zM522 648h1v2h-1zM591 648h1v1h-1zM262 649h1v1h-1zM452 649h1v1h-1zM592 649h1v1h-1zM670 649h1v1h-1zM732 649h1v1h-1zM263 650h1v1h-1zM311 650h2v1h-2zM375 650h1v1h-1zM669 650h1v1h-1zM733 650h1v1h-1zM885 650h1v1h-1zM160 651h1v1h-1zM376 651h1v1h-1zM781 651h1v2h-1zM884 651h1v1h-1zM161 652h1v1h-1zM737 652h1v1h-1zM306 653h2v1h-2zM450 653h1v2h-1zM522 653h1v2h-1zM594 653h1v2h-1zM738 653h1v1h-1zM265 654h1v2h-1zM666 654h1v1h-1zM379 655h1v1h-1zM665 655h1v1h-1zM742 655h1v1h-1zM883 655h1v1h-1zM162 656h1v2h-1zM266 656h1v1h-1zM301 656h2v1h-2zM380 656h1v1h-1zM743 656h1v1h-1zM779 656h1v1h-1zM882 656h1v1h-1zM778 657h1v1h-1zM447 658h1v2h-1zM522 658h1v2h-1zM597 658h1v2h-1zM747 658h1v1h-1zM296 659h2v1h-2zM661 659h1v2h-1zM748 659h1v1h-1zM268 660h1v2h-1zM383 660h1v1h-1zM881 660h1v2h-1zM164 661h1v3h-1zM292 661h1v1h-1zM384 661h1v1h-1zM752 661h1v1h-1zM776 661h1v2h-1zM291 662h1v1h-1zM753 662h1v1h-1zM444 663h1v2h-1zM522 663h1v2h-1zM600 663h1v2h-1zM775 663h1v1h-1zM287 664h1v1h-1zM757 664h2v1h-2zM271 665h1v2h-1zM286 665h1v1h-1zM388 665h1v1h-1zM879 665h1v2h-1zM389 666h1v1h-1zM655 666h1v1h-1zM166 667h1v1h-1zM282 667h1v1h-1zM654 667h1v1h-1zM762 667h2v1h-2zM773 667h1v1h-1zM167 668h1v1h-1zM281 668h1v1h-1zM441 668h1v2h-1zM522 668h1v2h-1zM603 668h1v2h-1zM772 668h1v1h-1zM393 669h1v1h-1zM273 670h1v1h-1zM277 670h1v1h-1zM394 670h1v1h-1zM650 670h1v1h-1zM767 670h2v1h-2zM877 670h1v3h-1zM274 671h1v1h-1zM276 671h1v1h-1zM649 671h1v1h-1zM168 672h1v1h-1zM770 672h1v2h-1zM169 673h1v1h-1zM272 673h1v1h-1zM397 673h1v1h-1zM439 673h1v1h-1zM522 673h1v2h-1zM605 673h1v1h-1zM772 673h2v1h-2zM271 674h1v1h-1zM398 674h1v1h-1zM438 674h1v1h-1zM606 674h1v1h-1zM276 675h1v1h-1zM645 675h1v1h-1zM777 675h1v1h-1zM266 676h2v1h-2zM277 676h1v1h-1zM644 676h1v1h-1zM778 676h1v1h-1zM875 676h1v1h-1zM170 677h1v1h-1zM402 677h1v1h-1zM643 677h1v1h-1zM767 677h1v2h-1zM874 677h1v1h-1zM171 678h1v1h-1zM403 678h1v1h-1zM436 678h1v1h-1zM522 678h1v2h-1zM608 678h1v1h-1zM782 678h1v1h-1zM261 679h2v1h-2zM435 679h1v1h-1zM609 679h1v1h-1zM639 679h1v1h-1zM783 679h1v1h-1zM279 680h1v1h-1zM638 680h1v1h-1zM280 681h1v1h-1zM407 681h1v1h-1zM787 681h1v1h-1zM872 681h1v2h-1zM172 682h1v1h-1zM256 682h2v1h-2zM408 682h1v1h-1zM764 682h1v2h-1zM788 682h1v1h-1zM173 683h1v1h-1zM433 683h1v1h-1zM522 683h1v2h-1zM611 683h1v1h-1zM634 683h1v1h-1zM432 684h1v1h-1zM612 684h1v1h-1zM633 684h1v1h-1zM792 684h1v1h-1zM251 685h2v1h-2zM282 685h1v1h-1zM412 685h1v1h-1zM793 685h1v1h-1zM283 686h1v1h-1zM413 686h1v1h-1zM629 686h1v1h-1zM762 686h1v1h-1zM870 686h1v2h-1zM174 687h1v1h-1zM628 687h1v1h-1zM761 687h1v1h-1zM797 687h1v1h-1zM175 688h1v1h-1zM246 688h2v1h-2zM417 688h1v1h-1zM430 688h1v1h-1zM522 688h1v2h-1zM614 688h1v1h-1zM627 688h1v1h-1zM798 688h1v1h-1zM418 689h1v1h-1zM429 689h1v1h-1zM615 689h1v1h-1zM242 690h1v1h-1zM286 690h1v2h-1zM623 690h1v1h-1zM802 690h1v1h-1zM241 691h1v1h-1zM422 691h1v1h-1zM622 691h1v1h-1zM758 691h1v2h-1zM803 691h1v1h-1zM868 691h1v1h-1zM177 692h1v2h-1zM423 692h1v1h-1zM867 692h1v1h-1zM237 693h1v1h-1zM427 693h1v2h-1zM522 693h1v2h-1zM617 693h2v1h-2zM807 693h2v1h-2zM236 694h1v1h-1zM426 694h1v1h-1zM617 694h2v1h-2zM289 695h1v1h-1zM428 695h1v1h-1zM232 696h1v1h-1zM290 696h1v1h-1zM429 696h1v1h-1zM613 696h1v1h-1zM755 696h1v1h-1zM812 696h2v1h-2zM866 696h1v1h-1zM179 697h1v2h-1zM231 697h1v1h-1zM612 697h1v1h-1zM754 697h1v1h-1zM865 697h1v1h-1zM424 698h1v2h-1zM433 698h2v1h-2zM522 698h1v2h-1zM609 698h2v1h-2zM620 698h1v2h-1zM180 699h1v1h-1zM227 699h1v1h-1zM817 699h2v1h-2zM226 700h1v1h-1zM292 700h1v1h-1zM438 700h1v1h-1zM605 700h1v1h-1zM293 701h1v1h-1zM439 701h1v1h-1zM604 701h1v1h-1zM751 701h1v1h-1zM822 701h1v1h-1zM863 701h1v2h-1zM222 702h1v1h-1zM600 702h1v1h-1zM750 702h1v1h-1zM823 702h1v1h-1zM182 703h1v2h-1zM221 703h1v1h-1zM421 703h1v2h-1zM443 703h2v1h-2zM522 703h1v2h-1zM599 703h1v1h-1zM623 703h1v2h-1zM295 704h1v1h-1zM445 704h2v1h-2zM827 704h1v1h-1zM216 705h2v1h-2zM296 705h1v1h-1zM594 705h2v1h-2zM828 705h1v1h-1zM450 706h2v1h-2zM591 706h2v1h-2zM747 706h1v1h-1zM861 706h1v1h-1zM455 707h1v1h-1zM746 707h1v1h-1zM832 707h1v1h-1zM860 707h1v1h-1zM184 708h1v1h-1zM211 708h2v1h-2zM418 708h1v2h-1zM456 708h1v1h-1zM522 708h1v2h-1zM586 708h2v1h-2zM626 708h1v2h-1zM833 708h1v1h-1zM185 709h1v1h-1zM299 709h1v1h-1zM460 709h2v1h-2zM745 709h1v1h-1zM300 710h1v1h-1zM463 710h2v1h-2zM581 710h2v1h-2zM744 710h1v1h-1zM837 710h1v1h-1zM206 711h2v1h-2zM468 711h1v1h-1zM838 711h1v1h-1zM858 711h1v2h-1zM469 712h1v1h-1zM574 712h1v1h-1zM576 712h2v1h-2zM187 713h1v1h-1zM416 713h1v1h-1zM473 713h2v1h-2zM522 713h1v2h-1zM573 713h1v1h-1zM628 713h1v1h-1zM842 713h1v1h-1zM188 714h1v1h-1zM201 714h2v1h-2zM304 714h1v1h-1zM415 714h1v1h-1zM478 714h2v1h-2zM568 714h2v1h-2zM629 714h1v1h-1zM741 714h1v1h-1zM843 714h1v1h-1zM305 715h1v1h-1zM482 715h2v1h-2zM563 715h2v1h-2zM740 715h1v1h-1zM487 716h2v1h-2zM555 716h1v1h-1zM558 716h2v1h-2zM847 716h1v1h-1zM855 716h1v2h-1zM196 717h2v1h-2zM492 717h2v1h-2zM497 717h1v1h-1zM549 717h2v1h-2zM554 717h1v1h-1zM848 717h1v1h-1zM190 718h1v2h-1zM413 718h1v1h-1zM498 718h1v1h-1zM501 718h2v1h-2zM522 718h1v2h-1zM544 718h2v1h-2zM631 718h1v1h-1zM192 719h1v1h-1zM308 719h1v1h-1zM412 719h1v1h-1zM506 719h2v1h-2zM511 719h2v1h-2zM530 719h2v1h-2zM535 719h2v1h-2zM539 719h2v1h-2zM632 719h1v1h-1zM736 719h1v1h-1zM852 719h2v1h-2zM191 720h1v1h-1zM309 720h1v1h-1zM516 720h2v1h-2zM520 720h2v1h-2zM525 720h2v1h-2zM735 720h1v1h-1zM852 721h1v2h-1zM193 723h1v2h-1zM410 723h1v1h-1zM522 723h1v2h-1zM634 723h1v1h-1zM312 724h1v1h-1zM409 724h1v1h-1zM635 724h1v1h-1zM732 724h1v1h-1zM313 725h1v1h-1zM731 725h1v1h-1zM314 726h1v1h-1zM849 726h1v2h-1zM315 727h1v1h-1zM195 728h1v1h-1zM407 728h1v1h-1zM522 728h1v2h-1zM637 728h1v1h-1zM196 729h1v1h-1zM406 729h1v1h-1zM638 729h1v1h-1zM728 729h1v1h-1zM727 730h1v1h-1zM197 731h1v1h-1zM319 731h1v1h-1zM847 731h1v1h-1zM198 732h1v1h-1zM320 732h1v1h-1zM725 732h1v1h-1zM846 732h1v1h-1zM404 733h1v1h-1zM522 733h1v2h-1zM640 733h1v1h-1zM724 733h1v1h-1zM403 734h1v1h-1zM641 734h1v1h-1zM201 736h1v2h-1zM324 736h2v1h-2zM720 736h1v1h-1zM844 736h1v1h-1zM719 737h1v1h-1zM843 737h1v1h-1zM401 738h1v2h-1zM522 738h1v2h-1zM643 738h1v2h-1zM842 739h1v1h-1zM329 740h1v1h-1zM715 740h1v1h-1zM841 740h1v1h-1zM204 741h1v1h-1zM330 741h1v1h-1zM714 741h1v1h-1zM205 742h1v1h-1zM398 743h1v2h-1zM522 743h1v2h-1zM646 743h1v2h-1zM838 744h1v2h-1zM334 745h1v1h-1zM710 745h1v1h-1zM208 746h1v2h-1zM335 746h1v1h-1zM709 746h1v1h-1zM395 748h1v2h-1zM522 748h1v2h-1zM649 748h1v2h-1zM339 749h1v1h-1zM705 749h1v1h-1zM835 749h1v1h-1zM340 750h1v1h-1zM704 750h1v1h-1zM834 750h1v1h-1zM211 751h1v1h-1zM702 751h1v1h-1zM212 752h1v1h-1zM701 752h1v1h-1zM344 753h1v1h-1zM393 753h1v1h-1zM522 753h1v2h-1zM651 753h1v1h-1zM345 754h1v1h-1zM392 754h1v1h-1zM652 754h1v1h-1zM831 754h1v1h-1zM697 755h1v1h-1zM830 755h1v1h-1zM215 756h1v2h-1zM696 756h1v1h-1zM349 757h1v1h-1zM350 758h1v1h-1zM390 758h1v1h-1zM522 758h1v2h-1zM654 758h1v1h-1zM389 759h1v1h-1zM655 759h1v1h-1zM692 759h1v1h-1zM827 759h1v1h-1zM691 760h1v1h-1zM826 760h1v1h-1zM218 761h1v1h-1zM354 761h2v1h-2zM219 762h1v1h-1zM220 763h1v1h-1zM357 763h1v1h-1zM387 763h1v1h-1zM522 763h1v2h-1zM657 763h1v1h-1zM686 763h2v1h-2zM358 764h1v1h-1zM386 764h1v1h-1zM658 764h1v1h-1zM823 764h1v2h-1zM362 766h1v1h-1zM682 766h1v1h-1zM223 767h1v1h-1zM363 767h1v1h-1zM681 767h1v1h-1zM224 768h1v1h-1zM384 768h1v1h-1zM522 768h1v2h-1zM660 768h1v1h-1zM367 769h1v1h-1zM383 769h1v1h-1zM661 769h1v1h-1zM677 769h2v1h-2zM820 769h1v1h-1zM368 770h1v1h-1zM819 770h1v1h-1zM818 771h1v1h-1zM228 772h1v2h-1zM372 772h1v1h-1zM673 772h1v1h-1zM373 773h1v1h-1zM381 773h1v1h-1zM522 773h1v2h-1zM663 773h1v1h-1zM672 773h1v1h-1zM380 774h1v1h-1zM664 774h1v1h-1zM668 775h1v1h-1zM814 775h1v1h-1zM377 776h2v1h-2zM667 776h1v1h-1zM813 776h1v1h-1zM232 777h1v1h-1zM233 778h1v1h-1zM378 778h1v2h-1zM381 778h1v1h-1zM522 778h1v2h-1zM663 778h1v1h-1zM666 778h1v2h-1zM382 779h1v1h-1zM662 779h1v1h-1zM810 780h1v1h-1zM386 781h2v1h-2zM658 781h1v1h-1zM809 781h1v1h-1zM236 782h1v1h-1zM656 782h2v1h-2zM237 783h1v1h-1zM375 783h1v2h-1zM391 783h1v1h-1zM522 783h1v2h-1zM669 783h1v2h-1zM392 784h1v1h-1zM652 784h1v1h-1zM651 785h1v1h-1zM805 785h1v1h-1zM396 786h2v1h-2zM804 786h1v1h-1zM241 787h1v2h-1zM646 787h2v1h-2zM372 788h1v2h-1zM401 788h1v1h-1zM522 788h1v2h-1zM672 788h1v2h-1zM402 789h1v1h-1zM641 789h2v1h-2zM800 790h1v1h-1zM244 791h1v1h-1zM406 791h3v1h-3zM637 791h1v1h-1zM799 791h1v1h-1zM245 792h1v1h-1zM636 792h1v1h-1zM370 793h1v1h-1zM412 793h2v1h-2zM522 793h1v2h-1zM674 793h1v1h-1zM369 794h1v1h-1zM631 794h2v1h-2zM675 794h1v1h-1zM417 795h2v1h-2zM628 795h2v1h-2zM796 795h1v1h-1zM249 796h1v1h-1zM624 796h1v1h-1zM795 796h1v1h-1zM250 797h1v1h-1zM422 797h2v1h-2zM623 797h1v1h-1zM367 798h1v1h-1zM427 798h1v1h-1zM522 798h1v2h-1zM619 798h1v1h-1zM677 798h1v1h-1zM366 799h1v1h-1zM428 799h1v1h-1zM618 799h1v1h-1zM678 799h1v1h-1zM432 800h1v1h-1zM613 800h2v1h-2zM791 800h1v1h-1zM254 801h1v1h-1zM433 801h3v1h-3zM790 801h1v1h-1zM255 802h1v1h-1zM439 802h1v1h-1zM608 802h2v1h-2zM364 803h1v1h-1zM440 803h1v1h-1zM522 803h1v2h-1zM680 803h1v1h-1zM363 804h1v1h-1zM444 804h2v1h-2zM601 804h4v1h-4zM681 804h1v1h-1zM786 804h1v1h-1zM259 805h1v1h-1zM449 805h1v1h-1zM597 805h1v1h-1zM785 805h1v1h-1zM260 806h1v1h-1zM450 806h1v1h-1zM592 806h1v1h-1zM596 806h1v1h-1zM454 807h2v1h-2zM591 807h1v1h-1zM361 808h1v1h-1zM459 808h2v1h-2zM522 808h1v2h-1zM586 808h2v1h-2zM683 808h1v1h-1zM360 809h1v1h-1zM462 809h2v1h-2zM581 809h2v1h-2zM684 809h1v1h-1zM781 809h1v1h-1zM264 810h1v1h-1zM467 810h2v1h-2zM472 810h1v1h-1zM573 810h1v1h-1zM576 810h2v1h-2zM780 810h1v1h-1zM265 811h1v1h-1zM473 811h1v1h-1zM477 811h2v1h-2zM567 811h2v1h-2zM572 811h1v1h-1zM482 812h2v1h-2zM558 812h1v1h-1zM562 812h2v1h-2zM358 813h1v1h-1zM487 813h2v1h-2zM490 813h2v1h-2zM495 813h2v1h-2zM522 813h1v2h-1zM552 813h2v1h-2zM557 813h1v1h-1zM686 813h1v1h-1zM357 814h1v1h-1zM500 814h2v1h-2zM505 814h2v1h-2zM510 814h1v1h-1zM533 814h2v1h-2zM538 814h2v1h-2zM543 814h2v1h-2zM547 814h2v1h-2zM687 814h1v1h-1zM776 814h1v1h-1zM269 815h1v1h-1zM511 815h1v1h-1zM515 815h2v1h-2zM518 815h2v1h-2zM523 815h2v1h-2zM528 815h2v1h-2zM775 815h1v1h-1zM270 816h1v1h-1zM272 818h1v1h-1zM355 818h1v2h-1zM522 818h1v2h-1zM689 818h1v2h-1zM771 818h1v1h-1zM273 819h1v1h-1zM770 819h1v1h-1zM277 822h1v1h-1zM278 823h1v1h-1zM352 823h1v2h-1zM522 823h1v2h-1zM692 823h1v2h-1zM766 823h1v1h-1zM765 824h1v1h-1zM764 825h1v1h-1zM282 826h2v1h-2zM349 828h1v2h-1zM522 828h1v2h-1zM695 828h1v2h-1zM759 828h2v1h-2zM287 830h2v1h-2zM755 831h1v1h-1zM754 832h1v1h-1zM292 833h1v1h-1zM347 833h1v1h-1zM522 833h1v2h-1zM697 833h1v1h-1zM293 834h1v1h-1zM346 834h1v1h-1zM698 834h1v1h-1zM750 835h1v1h-1zM749 836h1v1h-1zM297 837h1v1h-1zM298 838h1v1h-1zM344 838h1v1h-1zM522 838h1v2h-1zM700 838h1v1h-1zM343 839h1v1h-1zM701 839h1v1h-1zM745 839h1v1h-1zM744 840h1v1h-1zM302 841h1v1h-1zM303 842h1v1h-1zM341 843h1v1h-1zM522 843h1v2h-1zM703 843h1v1h-1zM739 843h2v1h-2zM307 844h1v1h-1zM340 844h1v1h-1zM704 844h1v1h-1zM308 845h1v1h-1zM735 846h1v1h-1zM734 847h1v1h-1zM312 848h2v1h-2zM338 848h1v1h-1zM522 848h1v2h-1zM706 848h1v1h-1zM732 848h1v1h-1zM337 849h1v1h-1zM707 849h1v1h-1zM731 849h1v1h-1zM317 851h1v1h-1zM727 851h1v1h-1zM318 852h1v1h-1zM726 852h1v1h-1zM335 853h1v1h-1zM522 853h1v2h-1zM709 853h1v1h-1zM322 854h1v1h-1zM334 854h1v1h-1zM710 854h1v1h-1zM721 854h2v1h-2zM323 855h1v1h-1zM327 857h1v1h-1zM716 857h2v1h-2zM328 858h1v1h-1zM332 858h1v2h-1zM522 858h1v2h-1zM712 858h1v3h-1zM711 860h1v1h-1zM332 861h2v1h-2zM334 862h2v1h-2zM522 863h1v2h-1zM706 863h2v1h-2zM339 864h1v1h-1zM340 865h1v1h-1zM702 865h1v1h-1zM701 866h1v1h-1zM344 867h2v1h-2zM698 867h1v1h-1zM522 868h1v2h-1zM697 868h1v1h-1zM349 869h1v1h-1zM350 870h1v1h-1zM692 870h2v1h-2zM354 872h2v1h-2zM688 872h1v1h-1zM522 873h1v2h-1zM687 873h1v1h-1zM359 874h1v1h-1zM360 875h1v1h-1zM682 875h2v1h-2zM364 877h2v1h-2zM678 877h1v1h-1zM522 878h1v2h-1zM677 878h1v1h-1zM369 879h2v1h-2zM672 880h2v1h-2zM374 881h2v1h-2zM668 882h1v1h-1zM379 883h2v1h-2zM522 883h1v2h-1zM666 883h2v1h-2zM384 885h2v1h-2zM661 885h2v1h-2zM389 886h1v1h-1zM657 886h1v1h-1zM390 887h1v1h-1zM656 887h1v1h-1zM394 888h1v1h-1zM522 888h1v2h-1zM651 888h2v1h-2zM395 889h1v1h-1zM399 890h1v1h-1zM646 890h2v1h-2zM400 891h1v1h-1zM642 891h1v1h-1zM404 892h2v1h-2zM641 892h1v1h-1zM409 893h1v1h-1zM522 893h1v2h-1zM636 893h2v1h-2zM410 894h1v1h-1zM414 895h2v1h-2zM629 895h1v1h-1zM631 895h2v1h-2zM419 896h2v1h-2zM628 896h1v1h-1zM424 897h1v1h-1zM623 897h2v1h-2zM425 898h1v1h-1zM522 898h1v2h-1zM618 898h2v1h-2zM429 899h2v1h-2zM613 899h2v1h-2zM434 900h2v1h-2zM608 900h2v1h-2zM439 901h1v1h-1zM604 901h1v1h-1zM440 902h3v1h-3zM603 902h1v1h-1zM446 903h2v1h-2zM522 903h1v2h-1zM598 903h2v1h-2zM451 904h2v1h-2zM591 904h4v1h-4zM456 905h2v1h-2zM586 905h2v1h-2zM461 906h2v1h-2zM581 906h2v1h-2zM466 907h2v1h-2zM572 907h1v1h-1zM576 907h2v1h-2zM471 908h2v1h-2zM476 908h1v1h-1zM522 908h1v2h-1zM566 908h2v1h-2zM571 908h1v1h-1zM477 909h1v1h-1zM479 909h2v1h-2zM484 909h2v1h-2zM561 909h2v1h-2zM489 910h2v1h-2zM494 910h2v1h-2zM499 910h2v1h-2zM504 910h2v1h-2zM537 910h2v1h-2zM542 910h2v1h-2zM547 910h2v1h-2zM552 910h2v1h-2zM556 910h2v1h-2zM509 911h2v1h-2zM514 911h2v1h-2zM517 911h2v1h-2zM522 911h2v1h-2zM527 911h2v1h-2zM532 911h2v1h-2z" fill="#a0a0a0" shape-rendering="crispEdges"/>
<g text-anchor="middle">
<text x="520" y="33">Hearing: X34RQP with: 0.002W on 30meter</text>
<text x="520" y="52">4027 max distance</text>
<text x="520" y="71">Start 2013-03-29 03:48 - End 2013-03-29 18:40</text>
</g>
<g stroke="#000" stroke-width="1" fill="none" shape-rendering="crispEdges">
<rect x="89.5" y="95.5" width="866" height="866"/>
<path d="M139.5 961V951M139.5 96V106M90 911.5H100M955 911.5H945M235.5 961V951M235.5 96V106M90 815.5H100M955 815.5H945M331.5 961V951M331.5 96V106M90 719.5H100M955 719.5H945M426.5 961V951M426.5 96V106M90 624.5H100M955 624.5H945M522.5 961V951M522.5 96V106M90 528.5H100M955 528.5H945M618.5 961V951M618.5 96V106M90 432.5H100M955 432.5H945M713.5 961V951M713.5 96V106M90 337.5H100M955 337.5H945M809.5 961V951M809.5 96V106M90 241.5H100M955 241.5H945M905.5 961V951M905.5 96V106M90 145.5H100M955 145.5H945"/>
</g>
<g text-anchor="middle">
<text x="139" y="985">4000</text>
<text x="235" y="985">3000</text>
<text x="331" y="985">2000</text>
<text x="426" y="985">1000</text>
<text x="522" y="985">0</text>
<text x="618" y="985">1000</text>
<text x="713" y="985">2000</text>
<text x="809" y="985">3000</text>
<text x="905" y="985">4000</text>
<text x="522" y="552">0</text>
<text x="618" y="552">1000</text>
<text x="713" y="552">2000</text>
<text x="809" y="552">3000</text>
<text x="905" y="552">4000</text>
</g>
<g text-anchor="end">
<text x="76" y="916">4000</text>
<text x="76" y="820">3000</text>
<text x="76" y="724">2000</text>
<text x="76" y="629">1000</text>
<text x="76" y="533">0</text>
<text x="76" y="437">1000</text>
<text x="76" y="342">2000</text>
<text x="76" y="246">3000</text>
<text x="76" y="150">4000</text>
</g>
<path d="M522 528.5H955M522.5 518V539M618.5 518V539M713.5 518V539M809.5 518V539M905.5 518V539" stroke="#000" stroke-width="1" fill="none" shape-rendering="crispEdges"/>
<path d="M380.2 236.2L382.5 235.0L384.8 233.8L385.2 230.6L387.5 228.8L390.6 226.9L393.8 225.6L396.9 224.4L401.2 224.0L404.4 223.8L406.2 222.5L410.0 222.2L413.1 222.5L416.2 223.1L420.0 223.8L423.1 223.1L425.6 223.5L427.5 225.0L430.0 225.6L432.5 226.9L435.0 228.1L437.5 228.8L438.1 230.0L440.6 230.6L443.8 231.2L445.0 229.8L446.9 229.4L448.8 230.6L450.6 232.5L452.5 233.8L454.4 235.6L456.2 237.2L458.1 239.0L459.4 240.6L461.9 241.9L464.4 243.1L467.5 244.4L470.6 245.2L474.4 246.0L475.0 247.2L473.1 249.0L476.2 249.4L480.0 250.0L483.1 251.2L486.2 252.5L489.4 253.5L490.2 254.8L488.8 256.0L485.6 256.5L482.5 256.9L480.0 258.1L477.5 257.8L474.4 257.8L470.6 257.8L466.9 258.1L463.1 258.1L459.4 258.1L456.2 258.5L453.5 258.1L454.4 256.2L456.2 255.0L458.1 254.0L459.8 252.5L458.8 250.0L456.9 249.4L453.8 249.0L450.6 248.5L448.1 247.5L446.2 245.6L445.6 242.5L444.4 240.6L442.5 239.4L440.0 239.4L437.5 240.2L435.0 239.8L432.5 238.8L430.0 238.1L428.1 236.9L426.2 235.0L423.8 234.0L421.2 233.8L418.8 234.0L417.5 232.5L416.5 234.0L414.4 233.5L411.9 232.8L409.8 231.2L411.2 230.2L413.5 230.0L413.1 228.8L410.6 228.1L407.5 227.5L404.4 227.2L401.9 227.5L400.0 228.5L398.1 230.0L396.2 231.5L393.8 232.8L391.2 233.8L388.8 234.4L386.2 235.2L384.8 236.2L383.8 237.2L382.5 236.2ZM397.5 238.1L398.8 236.5L400.6 235.6L402.8 236.2L403.8 238.1L402.8 240.2L400.6 241.2L398.5 240.6ZM413.8 263.5L417.8 263.5L417.8 264.5L413.8 264.5ZM446.5 274.4L448.8 273.1L451.9 272.2L455.6 272.8L459.4 273.8L463.1 274.8L466.2 276.2L468.8 278.1L468.5 279.4L465.6 279.8L462.5 279.4L460.0 280.0L457.5 281.2L456.2 280.0L453.8 279.8L451.2 278.8L448.8 277.2L446.9 276.0ZM413.1 208.5L415.6 206.9L418.8 206.2L421.9 205.6L424.4 204.8L425.6 203.1L427.5 201.9L428.1 200.0M450.0 201.2L448.1 205.0L447.5 208.1L449.4 210.0L451.2 211.9L452.8 214.4L454.0 216.9L456.0 217.2L456.5 215.0L455.6 212.5L454.0 210.0L453.5 206.9L452.5 203.8L451.2 201.5ZM456.2 202.8L458.1 201.9L459.4 203.1M466.2 200.0L468.8 200.6L470.0 202.5L470.6 205.0L469.4 206.9L468.8 205.0M474.4 206.9L476.2 208.8L477.2 211.2L478.5 213.1M486.2 213.1L487.2 215.0M471.2 218.1L473.8 219.4L475.6 220.6M478.1 218.1L480.0 220.6L481.9 223.8L483.5 226.2M488.1 226.9L490.6 227.8L493.1 228.5L493.8 230.0L491.9 231.9L490.0 233.5L488.1 234.8M494.1 245.8L495.0 246.2M472.8 98.5L470.0 99.8L467.5 100.6L464.4 101.0L462.2 101.9L460.6 103.8L458.1 105.6L456.2 107.5L453.1 108.8L450.0 110.0L446.9 111.5L445.0 113.8L443.1 115.6L441.2 118.1L439.4 120.0L436.9 121.2L433.8 122.5L430.6 123.8L428.1 124.4L426.9 126.9L425.0 128.8L423.8 131.2L422.2 134.4L421.0 136.9L420.0 139.4L420.0 142.5L420.6 145.6L421.0 148.8L421.2 151.9L422.2 155.0L423.5 158.1L425.0 161.2L426.5 164.4L427.8 167.5L428.8 171.2L429.8 174.4L431.0 178.1L431.5 181.9L431.5 185.6L431.2 189.4L430.6 193.1L429.8 195.6L428.5 197.8L427.2 199.8L425.0 201.0L422.5 201.2L420.6 200.0L419.4 197.8L418.1 196.2L416.5 194.4L414.8 192.8L413.1 190.6L413.1 187.5L411.9 186.9L410.2 185.6L409.0 183.8L407.5 182.5L406.2 180.0L406.0 177.5L405.2 175.6L404.2 173.5L404.2 170.8L405.2 167.8L406.4 164.2L407.2 161.2L406.4 159.4L404.0 157.2L401.0 154.6L398.6 151.0L396.2 149.2L393.8 148.2L390.8 148.6L387.8 150.8L385.4 151.6L383.6 152.5L381.8 151.2L380.2 149.0L379.4 146.9L377.5 145.6L375.6 145.0L373.1 144.4L370.6 143.8L370.0 144.0M413.1 208.1L415.6 206.9L418.8 206.0L421.2 204.4L423.8 203.1L426.2 201.9L428.1 200.0M442.5 185.6L445.0 186.9L447.5 185.6L451.2 186.0L455.0 185.0L456.2 183.1L458.8 183.8L460.6 185.6L461.2 188.8L460.2 191.9L459.0 194.4L458.5 191.9M464.4 197.5L466.9 199.4L469.4 200.6L470.4 203.1L470.0 206.2L469.0 207.5M313.1 151.2L314.4 149.4L316.2 148.5L318.1 149.4L318.5 151.2L316.9 152.2L315.2 151.0L316.2 149.4M318.5 150.0L320.6 151.2L321.9 153.1L323.1 151.9L323.8 154.4L325.6 156.0L328.1 156.5L330.0 155.0L331.9 154.4L333.1 156.2L334.4 155.0L334.0 153.1L335.6 152.5L336.9 154.4L338.8 153.8L340.6 155.0L343.1 154.4L344.4 156.2L343.1 158.1L341.2 157.8L340.2 156.2L339.0 155.0L338.1 153.1L339.0 151.2L340.6 150.0L342.5 148.8L343.8 147.2L342.5 146.0L340.6 146.5L339.0 147.5L337.5 146.9L336.2 145.2L334.8 144.4L333.1 145.2L334.0 146.5L336.2 146.9L338.1 148.1L340.0 148.8L341.9 147.5L342.8 145.6L343.8 144.0L346.2 143.5L348.8 143.8L350.0 144.8L351.9 144.0L353.8 143.8L354.8 145.0L355.6 142.5L356.2 140.2L357.2 143.1L357.8 145.2L360.0 144.8L362.5 144.0L365.0 143.1L367.5 143.8L370.0 144.0L372.5 144.4L375.0 144.4M346.2 151.2L347.2 149.4L347.8 147.5M260.0 184.0L259.8 188.0L258.0 193.0L255.6 198.0L253.2 203.0L251.6 209.0L250.4 215.0L249.0 220.0L248.4 225.0L248.4 230.0L249.4 234.4L251.0 239.0L252.4 243.0L254.6 247.0L258.0 251.0L260.0 254.0L260.4 258.0L261.6 261.6L264.0 265.0L266.4 267.6L271.0 268.4L275.0 270.4L277.6 274.0L281.6 274.0L286.0 271.6L292.0 271.6L298.0 269.6L304.0 269.0L307.0 269.6L309.0 272.0L311.6 270.4L312.4 268.0L310.0 267.6L307.0 269.6M312.4 267.6L316.0 265.0L318.4 262.0L319.4 257.6L321.2 255.0L321.6 249.0L323.0 245.0L325.0 242.4L330.0 241.0L336.0 240.4L342.0 239.0L347.0 238.4L352.0 239.6L357.0 239.0L359.0 242.0L360.0 245.0M180.0 263.0L183.0 267.0L186.0 271.0L190.0 273.0L197.0 275.0L201.4 275.4L205.0 278.4L209.0 282.4L215.0 285.6L222.0 289.0L229.0 291.0L233.0 292.0L237.0 295.0L243.0 298.0L249.0 299.0L254.0 301.0L259.0 301.2L264.0 299.4L269.0 297.0L272.0 294.4L274.0 293.6L277.0 295.6L281.0 297.0L285.0 300.0L290.0 304.4L294.0 308.0L298.0 312.4L302.0 316.0L306.0 319.4L310.0 321.0L317.0 321.6L322.0 324.0L328.0 326.0L334.0 328.4L338.0 329.4L343.0 329.4L346.0 327.6L348.4 328.4L350.0 331.0L348.0 332.4L346.4 331.0L347.6 329.0M349.0 332.4L353.0 337.0L357.0 341.0L359.0 345.0L360.0 347.0M330.0 241.5L333.8 240.6L337.5 240.0L341.9 239.0L345.6 238.1L349.4 238.5L353.1 239.4L355.6 240.0L356.9 238.5L358.8 238.8L360.0 241.2L361.2 243.1L360.0 245.6L360.6 248.1L360.0 250.6L358.1 253.1L356.9 251.2L358.1 248.8L356.9 250.0L355.0 252.5L353.8 255.0L352.2 257.5L350.6 259.8L352.5 260.6L351.5 263.1L350.6 265.6L349.4 268.1L348.5 271.2L347.5 273.8L346.9 276.9L346.0 279.4L344.4 281.2L343.1 283.8L342.8 286.9L342.2 290.0L341.2 293.1L339.4 295.0L337.2 296.9L335.6 298.8L336.2 301.0L338.1 301.5L340.6 301.0L343.8 301.9L346.9 301.2L350.6 300.6L354.4 300.6L358.1 300.2L361.9 300.0L365.0 298.5L367.5 299.4L371.2 299.8L375.0 299.4L378.1 299.4L381.2 300.6L384.0 301.9L385.6 303.8L386.9 305.6L389.4 306.5L391.9 307.2L394.0 308.1L394.4 310.6L394.0 312.5L394.8 315.0L394.4 317.5L393.1 319.4L391.5 321.2L391.0 324.4L391.0 327.5L390.6 330.6L390.2 333.8L389.8 336.2L388.5 338.8L388.2 340.0M344.8 269.0L343.1 271.2L342.5 273.1L344.0 274.4L344.8 276.2L345.6 278.1L346.9 275.6L346.2 273.1L346.9 270.6L346.0 268.8ZM345.6 283.8L347.2 282.8L346.9 285.0ZM359.4 295.0L361.9 294.4L363.8 294.0M366.9 293.8L367.5 294.4M330.0 326.2L333.1 327.8L336.2 328.8L339.4 329.4L342.5 329.4L345.0 328.8L345.6 327.2L348.1 327.5L348.8 329.4L350.2 331.2L349.0 332.8L347.2 331.9L346.2 330.6L346.0 331.9L347.5 333.8L349.8 335.6L352.5 337.5L355.0 339.4L355.8 340.0M388.1 340.0L387.2 342.5L388.1 345.0L386.5 347.5L386.2 350.6L387.5 353.8L389.0 356.9L390.6 360.0L392.2 362.5L394.4 364.4L396.9 366.2L399.4 367.5L401.5 369.4L403.1 370.0L402.5 371.9L404.0 374.4L405.6 373.8L406.9 372.8L407.5 374.8L410.0 376.2L413.1 376.5L416.2 376.2L419.4 374.8L422.5 373.1L425.6 371.9L428.1 370.6L430.0 369.0L432.5 368.5L435.6 368.5L438.1 369.0L441.2 369.8L444.4 370.2L447.5 371.2L450.0 373.1L452.5 375.0L455.0 376.9M356.2 340.0L357.5 343.1L358.8 345.6L361.2 347.2L363.8 348.8L366.2 350.6L366.9 352.5L365.0 353.8L366.2 355.0L367.5 356.0L366.0 358.1L365.2 360.6L365.6 363.1L366.9 364.4L369.4 365.0L371.9 366.2L373.1 368.1L374.4 366.9L373.8 365.0L371.9 363.1L371.5 361.5L373.1 361.9L375.0 363.8L376.5 363.5L377.2 365.6L378.1 367.5L380.6 368.8L383.8 370.2L386.2 371.9L388.1 373.1L388.8 375.6L387.8 378.1L388.8 380.0L391.2 380.2L390.6 378.1L392.2 377.5L393.8 378.8L393.5 380.6L395.0 382.5L396.5 384.4L397.5 381.9L400.0 381.5L403.1 381.9L405.6 383.1L408.1 383.8L410.0 385.0L410.6 387.2L412.5 388.8L414.4 388.1L415.0 386.5L416.0 388.8L416.9 391.2L418.1 393.5L420.6 393.5L423.8 392.2L426.2 391.2L426.9 388.8L425.6 386.9L423.1 386.0L421.9 384.0L422.5 381.9L425.0 381.0L427.5 380.0L429.4 377.5L431.0 375.6L433.1 374.4L436.2 374.0L438.8 375.0L441.2 376.5L443.1 378.1L444.4 380.0L446.9 380.2L448.1 381.9L450.6 383.5M444.4 380.0L445.0 381.9L444.0 383.8L445.2 386.2L446.9 388.8L448.8 391.2L450.6 393.8L452.2 396.2L453.8 398.8L454.4 401.9L453.8 404.4L455.0 406.2M407.2 389.4L408.8 389.8L409.4 392.2L408.1 392.5ZM414.2 386.9L415.5 387.2L415.5 388.8L414.5 388.5ZM436.2 381.9L437.8 380.6L439.4 381.0L438.5 382.8M440.0 451.2L437.2 451.2L436.2 453.1L438.1 454.4L439.8 456.2L437.8 457.8L434.4 458.8L430.6 459.8L427.5 460.6L425.6 461.9L425.2 465.0M455.0 377.2L456.9 379.4L458.8 381.2L459.0 383.8L460.0 385.2L461.5 383.8L461.0 381.2L459.4 379.4L460.0 378.1L462.5 376.9L465.0 375.2L467.5 373.1L470.0 370.6L472.8 369.4L474.0 368.8L473.1 366.2L473.8 363.1L473.1 360.6L475.0 358.1L477.5 355.6L480.0 353.1L481.9 351.5L483.8 352.5L485.6 353.8L485.2 355.0L486.9 355.6L487.8 353.8L487.2 351.2L488.8 349.8L490.6 349.4L493.1 350.0L496.2 349.8L499.4 348.8L502.5 346.9L505.6 345.2L508.5 343.8L510.0 341.9L511.5 339.8L513.8 338.1L516.2 337.2L518.8 337.8L521.0 339.0L521.9 341.0L520.0 342.5L518.8 344.4L516.2 345.6L513.8 346.0L512.2 346.9L512.5 349.4L514.0 351.5L515.0 353.5L516.2 354.4L517.2 353.8L520.0 352.8L523.1 351.5L526.2 350.2L529.4 349.4L531.9 348.5L533.5 347.5L531.9 346.2L530.6 344.4L530.6 342.2L532.2 341.0L534.0 341.5L535.2 343.1L535.6 345.6L534.4 347.2L536.9 347.2L540.0 347.5L543.1 348.1L546.2 348.8L548.8 350.0L550.6 351.9L551.0 354.4L551.9 356.9L553.1 358.5L556.2 358.5L560.0 358.1L563.1 357.5L565.0 357.2M516.2 354.4L515.0 356.9L513.8 359.4L512.2 361.9L510.6 364.4L510.2 366.2L511.9 368.1L513.8 370.0L515.0 372.5L516.9 373.5L519.4 373.1L521.5 371.5L522.2 368.8L522.2 365.6L521.2 363.1L520.0 360.6L518.8 358.1L517.5 355.6L516.5 354.0M532.2 335.2L533.5 336.9M541.2 338.5L543.1 340.0L545.6 341.2M550.6 339.4L551.9 341.0M455.0 406.2L455.2 408.1L454.8 410.6L453.1 411.9L454.8 413.1L455.0 416.2L454.8 419.4L455.2 422.5L454.0 425.0L454.8 427.5L456.9 428.8L456.0 431.2L454.8 433.8L453.1 436.2L451.5 438.8L449.8 440.6L447.8 441.9L446.0 443.1L444.0 443.8L441.9 445.0L441.0 447.5L441.9 450.0L440.6 451.9L440.0 452.5M497.5 258.8L499.4 258.1L501.9 258.1L502.5 256.9L505.6 256.9L505.6 258.5L508.1 260.0L511.2 260.2L514.4 260.0L516.2 258.5L519.4 258.1L523.1 258.1L526.2 258.8L529.4 259.4L531.9 261.0L533.8 260.6L534.4 263.1L536.2 265.0L538.8 264.4L540.6 265.6L538.8 266.5L541.2 267.2L544.4 268.1L547.5 269.0L549.8 270.6L550.6 272.5L549.4 274.4L548.1 276.2L546.9 275.0L545.0 274.0L542.5 273.8L540.0 273.1L537.5 273.5L535.0 273.8L532.5 274.4L530.0 275.6L528.1 276.2L526.2 275.0L523.8 275.6L521.9 276.9L520.6 279.4L519.4 281.2L518.1 282.5L516.2 281.2L515.0 279.0L513.8 277.5L511.9 276.5L508.8 276.2L505.0 276.2L501.2 276.2L498.1 276.0L496.2 275.2L494.4 276.9L492.5 278.1L490.6 276.9L488.8 275.6L486.9 274.4L486.2 272.5L488.1 271.5L490.6 271.9L493.1 272.5L495.6 273.1L498.8 273.5L501.9 273.1L505.0 273.1L507.5 272.5L508.5 271.2L506.9 270.0L505.0 268.8L503.8 267.5L504.4 265.0L504.0 262.8L501.9 261.9L499.4 261.5L497.5 260.2ZM498.5 268.8L500.6 268.1L502.5 269.0L503.1 270.6L501.2 271.0L499.0 270.0ZM494.8 245.6L496.2 244.8L498.8 244.0L500.6 243.1L501.9 241.2L502.8 240.2L501.9 243.8L500.6 245.6L498.8 246.9L496.2 247.5L494.8 246.5ZM486.2 213.8L487.2 213.1L486.9 215.6M480.0 221.9L481.9 223.1L483.5 225.6M488.5 227.2L491.2 227.5L493.5 228.8L493.1 230.6L491.9 231.9L490.0 233.1L488.5 234.4M500.0 231.5L504.4 231.5L504.4 232.5L500.0 232.5ZM508.1 237.2L510.0 238.1M512.2 236.9L515.6 237.5L515.6 238.5L513.1 238.1ZM561.9 273.8L563.8 272.5L567.5 272.8L571.2 273.1L575.6 273.1L578.1 274.0L579.4 275.6L577.5 277.5L575.0 278.1L573.1 279.4L571.2 278.8L568.8 279.0L566.2 279.8L563.8 279.0L562.2 277.5L561.5 275.6ZM578.8 276.2L581.5 276.2L581.5 277.5L578.8 277.5ZM584.4 274.8L586.9 274.0L589.4 273.5L591.5 272.5M586.2 280.6L589.8 281.2M584.4 274.8L586.9 274.0L589.4 273.1L591.5 272.2M586.2 280.6L589.8 281.5M604.4 275.6L605.6 278.1M607.2 284.4L609.4 285.6L610.6 287.5M617.2 281.2L618.5 283.5M616.9 287.5L620.0 287.5L620.0 288.8L616.9 288.8ZM614.1 291.2L614.8 292.8M618.8 296.2L620.0 295.0L621.2 296.9L622.5 295.6L624.4 295.0L625.6 296.9L623.8 298.1L621.9 299.4L620.6 300.6L619.4 298.8ZM623.1 300.0L625.6 300.6M622.5 303.8L624.4 304.0L625.0 306.9L623.1 307.8L622.2 305.6ZM625.2 311.5L627.5 311.9L628.8 313.8L629.8 316.0L628.1 316.2L626.9 314.8L625.6 313.1ZM626.9 320.2L628.5 319.8L629.0 322.5L627.5 323.8L626.5 321.9ZM624.8 327.8L626.2 327.2L626.9 329.4L625.6 330.6L624.4 329.4ZM641.9 328.5L644.4 329.0L643.5 330.6L642.2 330.0ZM570.0 356.4L572.8 356.4L574.4 358.2L576.4 360.0L578.4 361.4L581.2 362.4L584.4 362.6L587.2 362.2L589.6 361.0L592.0 360.0L594.0 358.6L594.8 357.0L597.2 356.6L600.4 356.6L603.6 356.6L606.8 356.6L609.2 356.0L611.6 355.4L613.6 356.0L611.6 356.8L614.0 357.0L616.4 356.4L618.4 356.0L619.6 355.6M594.0 356.8L600.0 356.8L600.0 358.4L594.8 358.4ZM594.4 357.6L599.8 357.6M608.2 358.2L609.2 359.4L610.4 360.6L610.0 362.6L611.2 363.2L612.4 362.2L613.2 363.4L614.0 365.0L614.8 366.2L616.0 364.6L617.2 363.4L619.2 362.6L621.2 361.8L623.2 361.0L623.6 359.0L623.4 357.0L622.4 356.0L623.8 355.4L626.0 355.0L628.8 354.6L628.8 362.2L626.0 362.4L623.2 362.6M618.0 365.0L620.0 366.2L620.4 367.4L619.2 365.8M621.2 363.0L623.2 365.0L625.2 367.0L626.8 368.2L628.8 368.4L630.4 369.8L631.2 371.4L630.0 372.6L630.8 374.2L629.2 375.4L628.0 376.6L626.8 377.4L626.4 378.6L625.2 379.8L624.0 379.0L622.4 378.6L625.2 378.8L627.6 379.0L629.6 378.2L631.6 378.6L633.6 379.0L635.6 378.2L637.6 378.4L639.2 379.8L641.2 381.4L643.2 382.2L645.2 383.0L647.2 384.2L648.8 385.8L650.0 386.8M630.4 370.6L628.0 375.0M629.6 371.4L627.4 375.8M581.4 353.4L584.0 353.6L583.8 354.6L582.0 354.4ZM592.2 352.4L594.0 352.0L596.0 352.2L597.2 351.4L598.4 351.4L598.8 353.0L597.6 354.2L596.0 354.4L594.8 353.6L592.8 353.6ZM619.2 342.2L620.4 340.6L621.6 339.4L621.8 341.0L620.8 342.6ZM630.2 351.0L631.6 349.8L633.2 349.2L633.8 350.2L632.0 351.4L630.6 351.8ZM565.0 357.2L570.0 356.4M531.9 335.6L533.8 337.2M541.2 338.8L543.8 340.6L546.2 341.5M550.6 339.8L551.9 341.2M520.0 340.0L521.0 341.9M650.0 386.9L652.5 388.8L655.0 391.0L656.0 392.8L655.0 395.6L654.4 398.1L654.8 400.6L653.5 402.5L654.8 399.8L655.6 397.2L658.1 397.2L660.2 396.9L661.9 398.8L663.8 400.6L665.6 402.5L667.5 403.8L669.4 404.8L669.8 407.5L669.4 411.0L670.6 408.1L671.0 406.2L673.1 406.5L676.2 407.2L679.4 408.1L682.5 408.8L683.5 410.2L683.8 407.8L685.6 406.5L688.1 407.2L691.2 406.5L694.4 407.2L697.5 407.2L700.0 407.5L701.9 408.8L703.8 410.0L703.1 412.2L701.2 413.5L703.5 411.9L704.4 410.0L706.9 410.6L710.0 411.2L712.5 412.2L715.0 413.5L717.5 415.2L720.0 417.2L721.9 419.0L723.5 421.0L725.6 421.9L724.8 425.0L726.2 423.1L727.5 422.5L728.1 425.0L728.5 428.1L729.4 425.6L731.2 426.0L733.1 427.5L734.0 430.0L734.8 433.1L735.6 436.2L736.2 439.4L737.2 442.5L738.1 445.6L739.0 448.1L740.6 449.4L742.2 449.0L743.5 450.6L741.9 451.9L740.6 451.0L741.5 452.8L743.8 453.5L746.0 453.8L747.2 455.6L747.5 459.4L745.6 461.2L743.8 462.8L741.9 464.8L740.0 466.5M740.0 466.5L738.1 469.0L735.6 470.6L733.1 472.5L731.9 475.0L730.6 477.5L728.8 479.8L727.5 481.9L726.2 484.4L723.8 486.0L721.2 487.2L718.8 488.1L717.2 488.5L720.0 488.8L723.1 489.0L725.6 488.1L728.1 486.5L730.6 485.0L733.1 483.1L735.6 481.9L736.9 478.8L738.1 476.2L740.0 474.4L741.9 472.8L744.4 471.9L746.9 472.2L749.4 473.1L751.9 473.5L750.0 471.2L747.5 469.8L745.0 469.4L742.8 470.0L741.0 471.0L739.0 472.8L736.9 474.4L735.0 473.5L736.9 471.2L739.4 469.8L741.2 468.1L742.8 466.2L745.0 466.5L743.8 468.5L741.9 467.8M739.4 474.8L738.1 477.5L737.2 480.6L736.5 483.8L737.8 486.9L739.0 490.0L740.6 492.5L742.5 493.8L745.0 492.2L747.5 492.8L750.0 492.5L752.5 491.2L754.4 490.0L756.9 489.4L758.1 487.5L759.4 485.0L761.2 482.5L762.5 479.4L763.5 476.5L761.2 475.6L758.1 475.2L755.0 474.8L751.9 475.0L748.8 474.4L745.6 473.8L742.5 473.8L740.0 474.4M753.1 490.0L751.9 493.1L750.6 496.2L749.8 500.0L750.2 501.5L751.9 498.8L753.1 495.6L754.4 492.5L755.6 490.0M758.1 487.8L760.6 489.4L763.1 490.0L762.5 487.5L763.5 485.0L764.4 482.8L766.2 481.2L768.8 480.6L771.9 481.0L775.0 480.2L778.1 481.5L781.2 483.1L784.4 484.4L787.5 486.0L790.6 487.2L793.1 488.1L795.6 489.4L796.2 491.5L797.5 490.0L799.4 488.5L799.0 490.0L800.6 491.9L802.5 493.5L803.5 495.6L802.8 497.8L801.9 499.8L803.8 500.2L805.0 498.8L803.5 497.5L805.6 500.0L806.2 502.5L804.4 504.4L803.1 506.9L801.5 509.4L803.1 507.5L805.0 505.6L806.9 504.4L808.1 502.5L808.8 505.0L807.2 503.8L809.4 502.2L812.5 501.9L815.6 501.2L816.5 500.2L818.1 501.5L821.2 502.8L824.4 504.0L827.5 505.0L830.6 506.2L833.1 507.2L835.0 507.8M726.2 482.5L728.8 480.0L731.2 479.0L733.1 480.6L731.9 483.1L729.4 484.4L726.9 485.6L725.6 484.4ZM835.0 507.6L840.0 507.0L845.0 506.0L849.0 506.4L853.0 507.6L857.0 510.4L861.0 513.0L865.0 516.0L869.0 519.6L872.0 523.0L875.0 526.0L878.0 529.0L881.0 532.0L885.0 533.6L890.0 534.0L895.0 534.4L899.0 536.0L901.0 540.0L902.4 544.0L903.6 549.0L904.4 554.0L904.4 559.0L903.6 564.0L902.4 569.0L901.0 573.0L899.0 577.0L897.0 581.0L894.0 584.4L891.0 588.0L888.0 591.0L885.0 594.0L881.0 596.4L878.0 598.0L876.0 601.0L874.0 604.0L872.4 608.0L871.0 612.0L869.0 615.0L866.0 618.0L862.4 620.4L859.0 622.0L857.6 619.0L859.0 617.0L857.0 620.0L855.6 623.0L853.0 626.0L853.6 629.0L852.4 633.0L852.0 637.0L851.0 640.0M851.0 640.0L852.4 646.0L852.0 652.0L850.4 657.0L849.0 662.0L847.6 667.0L846.4 672.0L845.0 675.0L842.0 677.0L840.0 680.0L839.0 684.0L839.0 689.0L838.0 693.0L835.0 697.0L832.0 701.0L829.0 704.0L825.6 706.4L823.6 709.0L821.6 713.0L822.0 717.0L820.4 720.0L816.0 721.0L811.6 723.0L810.0 725.6L809.6 728.4L804.0 728.6L800.0 728.4L799.0 725.6L798.0 728.0L794.0 728.0L791.0 727.0L788.0 729.0L785.0 728.0L783.6 729.6L783.0 728.0L780.0 729.6L777.0 731.6L776.4 735.0L774.4 735.6L774.0 733.6L771.0 733.6L767.0 735.6L762.0 737.6L757.0 740.0L752.0 743.0L748.0 746.0L747.0 748.4L743.0 749.6L740.6 749.0L741.0 751.0L743.0 750.0L741.0 754.0L739.6 758.0L741.0 759.0L739.6 762.0L739.6 767.0L739.0 772.0L740.0 774.0L738.4 776.0L737.0 780.0L735.0 783.0L732.0 785.0L728.0 788.0L725.0 791.0L722.0 794.0L720.0 797.6L718.0 801.0L716.0 804.0L713.0 807.0L710.0 810.0L706.0 813.0L703.0 815.0L700.0 816.0M715.6 805.0L715.0 801.0L713.6 799.0L712.0 800.0L710.0 797.6L709.6 800.0L711.0 803.0L709.0 805.0L707.0 808.0L704.0 809.0L701.0 810.0L700.0 811.0M715.0 805.0L713.0 808.0L710.0 808.0L707.0 812.0L704.0 814.0M700.0 811.0L699.0 815.0L698.4 818.0M700.0 816.4L697.0 820.0L694.0 823.6L693.0 827.0L690.0 830.0L687.0 833.0L683.6 836.0L681.0 839.0L678.0 842.0L675.0 844.4L672.0 846.0L669.0 847.0L666.0 846.0L663.0 844.4L660.0 845.0L656.0 845.0L652.0 843.6L649.0 841.0L646.0 840.0L643.0 839.6L640.0 838.0L638.0 835.0L637.6 831.0L638.0 827.0L639.0 825.0L641.0 824.4L641.6 821.6L641.6 818.0M637.6 837.0L637.0 839.0L638.4 842.0L641.0 844.0L644.0 846.0L646.0 849.0L647.6 852.0L646.0 855.0L646.4 858.0L649.0 860.4L650.4 863.0L650.0 867.0L648.0 870.0L645.6 873.0L642.4 876.0L641.0 879.0L638.0 881.0L634.0 882.4L629.0 883.6L624.0 884.4L619.0 885.0L614.0 885.6L609.0 886.0L604.0 886.4L601.0 886.4L599.6 884.4L598.4 886.0L599.6 889.0L601.6 889.6L600.0 892.0L598.0 895.0L597.0 899.0L597.6 903.0L596.0 906.0L592.4 908.0L588.0 909.0L584.0 908.0L580.0 906.4L577.0 905.0L574.4 903.6L572.4 906.0L573.0 910.0L572.4 914.0L573.0 917.6L575.6 919.6L579.0 920.0L581.6 919.0L584.4 920.0L584.4 925.0L581.6 927.0L579.0 926.0L576.4 928.0L573.6 927.0L573.0 924.4L576.0 923.0L579.0 921.6L581.0 924.0L579.0 926.0M576.4 928.0L573.0 930.0L570.4 933.0L569.6 937.0L570.0 941.0L567.6 944.4L565.6 947.0L566.4 949.0L564.0 949.4L563.4 948.0L560.4 948.4L557.6 949.6L555.0 951.0L552.0 956.0L550.0 959.6L549.2 961.6M517.0 800.0L517.6 806.0L518.4 812.0L518.6 816.0L517.0 820.0L516.0 822.0L517.0 825.0L515.0 829.0L514.0 834.0L512.4 839.0L511.0 843.0L509.0 848.0L507.0 853.0L505.6 857.0L504.0 861.0L503.0 865.0L499.6 866.0L498.4 869.0L499.6 872.0L500.4 877.0L501.0 881.0L502.4 884.0L503.6 887.0L502.4 891.0M448.0 828.6L450.4 829.4M502.0 890.0L500.5 892.0L499.5 894.5L498.8 897.5L498.0 900.5L497.5 903.5L496.8 905.5L497.8 907.5L498.5 910.0L500.0 911.5L500.0 914.0M496.5 914.0L500.0 914.0L502.0 914.0L502.2 917.0L501.8 919.5L501.2 922.0L500.0 923.0L501.0 925.0L502.5 926.5L501.5 928.0L500.0 929.0L499.5 931.0L497.0 931.5L495.0 930.8L494.5 929.5L495.0 927.0L495.2 924.0L495.5 921.0L495.8 918.0L496.2 915.5ZM500.0 911.5L503.0 913.0L504.5 911.5L506.5 911.0L508.0 911.5L507.2 913.5L507.5 916.0L508.5 917.0L509.5 916.5L510.0 918.0L508.5 918.5L509.0 920.0L510.5 919.5L510.5 921.5L509.2 921.0L508.5 922.5L507.8 925.0L507.2 927.5L506.5 930.0L505.8 933.0L505.2 936.0L504.5 938.5L504.0 940.0L504.5 941.5L506.0 941.2L507.5 942.0L508.8 942.5L508.5 944.5L507.5 945.5L506.5 944.5L507.8 946.0L507.0 947.5L505.5 948.5L504.0 949.5L503.0 951.0L504.5 952.0L506.5 953.0L505.0 952.8L503.0 952.0L502.0 953.5L501.5 955.5L501.0 957.5L501.2 959.5L500.5 961.0M510.0 911.0L511.5 911.2M490.2 933.2L492.8 933.2L492.8 934.5L490.2 934.5ZM490.5 933.8L492.5 933.8M496.5 936.2L499.8 936.2L499.8 937.0L496.5 937.0ZM498.0 935.5L498.5 937.5M497.0 939.7L499.0 939.7L499.0 940.5L497.0 940.5ZM488.2 946.2L490.0 946.2L490.0 947.8L488.2 947.8ZM488.6 947.0L489.6 947.0M493.0 944.5L494.5 942.5L496.5 941.5L498.5 941.0L500.0 942.0L500.5 944.0L499.5 945.5L500.0 947.5L499.0 949.0L497.5 948.0L496.2 946.5L494.5 946.0ZM494.5 950.0L496.2 949.5L496.8 951.5L495.8 953.5L494.5 953.0L494.0 951.2ZM497.5 950.0L499.0 951.0L499.5 953.0L498.5 955.0L500.0 956.0L501.0 958.0L500.0 960.0M491.5 956.5L493.5 955.0L495.0 954.0L496.0 956.0L497.5 955.5L498.5 957.0L497.5 959.0L499.0 960.5M489.2 959.5L491.0 958.0L492.5 956.5M501.0 946.0L502.2 947.0L503.0 949.0L501.8 950.0L500.8 948.5ZM496.5 946.0L497.5 950.0M460.0 600.0L463.0 603.6L466.0 608.0L468.0 612.4L468.4 617.0L467.0 618.4L469.0 622.0L472.0 626.0L475.0 629.6L478.0 633.0L481.0 635.6L486.0 638.0L491.0 640.4L496.0 643.0L501.0 645.0L506.0 647.0L510.0 649.6L514.0 652.0L517.6 653.6L518.4 657.0L520.0 659.0L523.0 660.4L526.0 663.0L529.6 666.4L530.0 672.0L531.0 678.0L531.6 684.0L531.4 690.0L531.0 696.0L530.4 702.0L529.6 708.0L529.0 713.0L527.0 715.6L526.4 719.0L528.0 721.0L527.0 726.0L527.0 731.0L527.6 736.0L527.0 741.0L526.0 746.0L525.6 751.0L524.4 756.0L523.6 760.0L522.0 764.0L521.6 768.0L520.0 772.0L518.4 775.0L517.0 778.0L517.6 781.0L519.0 783.0L519.0 788.0L517.6 791.0L516.0 794.0L515.6 797.0L516.6 800.0M425.2 465.0L426.5 466.2L426.2 469.0L425.0 471.0L423.1 472.8L421.5 474.4L421.9 476.9L423.1 477.5L421.0 478.1L420.2 480.0L418.5 481.0L417.2 481.9L418.1 483.8L417.8 486.9L418.1 490.0L417.8 492.5L416.2 494.4L418.1 496.0L420.0 497.2L422.5 498.5L424.4 499.0L425.6 497.5L426.9 495.0L428.1 492.5L428.8 495.0L429.4 497.5L428.1 499.4L426.9 500.6L425.0 502.2L423.8 500.6L425.6 500.0L427.5 501.9L427.2 504.4L425.0 505.6L422.5 506.5L420.2 508.5L418.1 510.6L416.0 512.5L414.0 514.8L413.1 516.9L412.2 519.4L413.1 521.9L414.8 523.5L416.0 525.6L415.6 527.5L416.9 529.4L417.5 531.9L416.9 533.5L415.0 533.1L414.4 534.8L415.6 536.5L417.5 537.8L420.0 539.0L423.1 540.2L426.0 541.2L428.1 543.1L429.8 545.0L431.0 547.5L432.2 550.6L433.5 553.1L434.4 555.0M434.4 555.0L436.9 556.9L439.0 558.5L440.2 561.2L441.0 564.4L442.5 567.5L444.4 570.0L446.0 573.1L447.2 576.2L448.8 579.4L450.2 582.2L451.9 585.0L452.8 588.1L453.8 591.0L455.6 592.8L457.2 594.8L458.5 598.1L460.0 600.0M303.2 472.8L304.4 471.4L306.0 471.2L307.4 472.4L307.6 474.0L306.4 474.0L305.6 472.8L304.4 473.6ZM302.2 475.6L303.6 475.0L305.2 475.4L305.8 476.8L304.4 477.6L302.8 477.2ZM304.4 481.6L305.6 480.2L307.6 479.2L309.6 478.6L311.6 479.0L311.8 480.4L310.8 482.0L309.2 483.2L306.8 483.8L305.0 483.2ZM306.4 474.0L307.6 475.6L309.2 477.2L310.8 478.4M310.8 474.8L312.0 474.2L314.0 474.4L314.8 475.6L313.6 476.6L311.8 476.2ZM314.2 478.0L315.6 477.2L317.6 477.4L318.8 478.6L318.2 480.2L316.4 480.8L314.8 480.0ZM324.0 481.8L325.2 480.4L326.8 479.4L328.8 479.2L327.8 480.6L326.2 482.0L324.8 482.6ZM325.2 481.6L327.6 479.8M314.0 486.4L315.6 485.2L316.8 485.6L316.6 486.6ZM581.0 126.5L584.0 126.5M583.0 125.5L584.0 125.5M406.4 171.4L409.4 171.9L407.5 173.2ZM406.9 171.9L408.5 172.2M425.2 164.5L426.5 168.0L428.0 172.0L429.5 176.0L430.5 179.0M249.8 231.2L250.8 235.0L252.2 237.8M271.6 294.0L273.8 295.0M272.0 295.0L273.5 295.5M277.5 296.0L281.5 297.5M278.0 297.0L281.2 298.2" fill="none" stroke="#ff0000" stroke-width="1" shape-rendering="crispEdges" stroke-linejoin="round"/>
<line x1="411.5" y1="159.5" x2="522.5" y2="528.5" stroke="#0080ff" stroke-width="1" shape-rendering="crispEdges"/>
<g fill="none" stroke="#00c000" stroke-width="1" shape-rendering="crispEdges">
<rect x="519.5" y="525.5" width="6" height="6"/>
<rect x="380.5" y="117.5" width="6" height="6"/>
<rect x="433.5" y="114.5" width="6" height="6"/>
<rect x="408.5" y="156.5" width="6" height="6"/>
<rect x="418.5" y="160.5" width="6" height="6"/>
<rect x="399.5" y="173.5" width="6" height="6"/>
<rect x="405.5" y="177.5" width="6" height="6"/>
<rect x="406.5" y="179.5" width="6" height="6"/>
<rect x="399.5" y="184.5" width="6" height="6"/>
<rect x="426.5" y="187.5" width="6" height="6"/>
<rect x="625.5" y="355.5" width="6" height="6"/>
</g>

<text x="408.4" y="164" text-anchor="middle">W3HH</text>

</svg></body></html>
